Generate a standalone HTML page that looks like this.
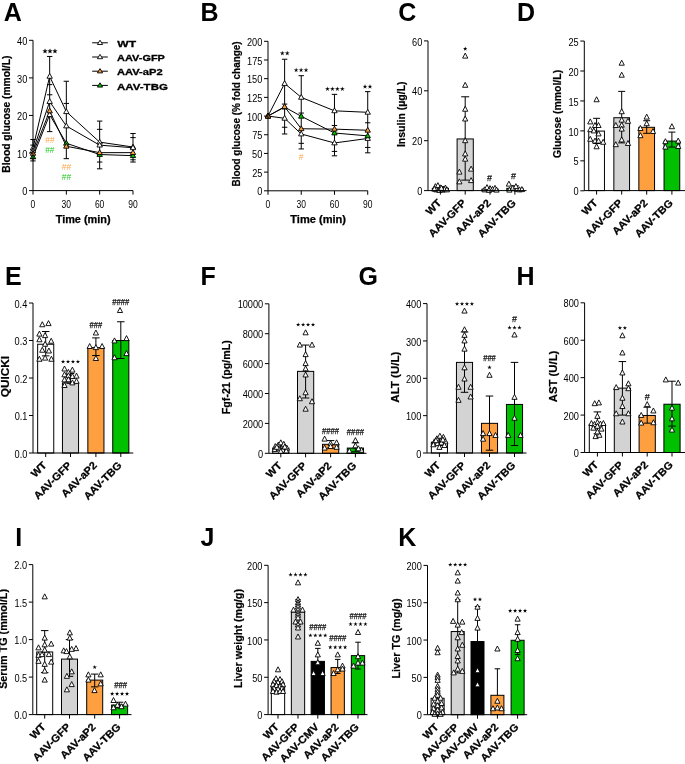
<!DOCTYPE html>
<html><head><meta charset="utf-8"><style>
html,body{margin:0;padding:0;background:#fff;}
svg{display:block;font-family:"Liberation Sans", sans-serif;will-change:transform;}
</style></head><body>
<svg width="685" height="764" viewBox="0 0 685 764">
<rect x="0" y="0" width="685" height="764" fill="#fff"/>
<text x="3.78" y="20.90" font-size="25.00" font-weight="bold" fill="#000" >A</text>
<path d="M33.00,160.92L33.00,139.50" stroke="#000" stroke-width="1.0" fill="none"/>
<path d="M30.30,160.92L35.70,160.92" stroke="#000" stroke-width="1.0" fill="none"/>
<path d="M30.30,158.66L35.70,158.66" stroke="#000" stroke-width="1.0" fill="none"/>
<path d="M30.30,145.13L35.70,145.13" stroke="#000" stroke-width="1.0" fill="none"/>
<path d="M30.30,139.50L35.70,139.50" stroke="#000" stroke-width="1.0" fill="none"/>
<path d="M49.66,131.61L49.66,56.46" stroke="#000" stroke-width="1.0" fill="none"/>
<path d="M46.96,131.61L52.37,131.61" stroke="#000" stroke-width="1.0" fill="none"/>
<path d="M46.96,94.78L52.37,94.78" stroke="#000" stroke-width="1.0" fill="none"/>
<path d="M46.96,84.64L52.37,84.64" stroke="#000" stroke-width="1.0" fill="none"/>
<path d="M46.96,56.46L52.37,56.46" stroke="#000" stroke-width="1.0" fill="none"/>
<path d="M66.33,158.66L66.33,81.26" stroke="#000" stroke-width="1.0" fill="none"/>
<path d="M63.63,158.66L69.03,158.66" stroke="#000" stroke-width="1.0" fill="none"/>
<path d="M63.63,103.43L69.03,103.43" stroke="#000" stroke-width="1.0" fill="none"/>
<path d="M63.63,81.26L69.03,81.26" stroke="#000" stroke-width="1.0" fill="none"/>
<path d="M99.66,168.81L99.66,121.09" stroke="#000" stroke-width="1.0" fill="none"/>
<path d="M96.96,168.81L102.36,168.81" stroke="#000" stroke-width="1.0" fill="none"/>
<path d="M96.96,162.04L102.36,162.04" stroke="#000" stroke-width="1.0" fill="none"/>
<path d="M96.96,129.35L102.36,129.35" stroke="#000" stroke-width="1.0" fill="none"/>
<path d="M96.96,121.09L102.36,121.09" stroke="#000" stroke-width="1.0" fill="none"/>
<path d="M132.99,162.04L132.99,133.49" stroke="#000" stroke-width="1.0" fill="none"/>
<path d="M130.29,162.04L135.69,162.04" stroke="#000" stroke-width="1.0" fill="none"/>
<path d="M130.29,159.79L135.69,159.79" stroke="#000" stroke-width="1.0" fill="none"/>
<path d="M130.29,137.62L135.69,137.62" stroke="#000" stroke-width="1.0" fill="none"/>
<path d="M130.29,133.49L135.69,133.49" stroke="#000" stroke-width="1.0" fill="none"/>
<path d="M33.00,148.14L49.66,76.37L66.33,111.69L99.66,142.13L132.99,147.01" stroke="#000" stroke-width="1.0" fill="none" stroke-linejoin="round"/>
<path d="M33.00,150.77L49.66,101.55L66.33,125.97L99.66,145.13L132.99,147.76" stroke="#000" stroke-width="1.0" fill="none" stroke-linejoin="round"/>
<path d="M33.00,156.78L49.66,114.70L66.33,143.26L99.66,154.53L132.99,155.66" stroke="#000" stroke-width="1.0" fill="none" stroke-linejoin="round"/>
<path d="M33.00,153.40L49.66,110.94L66.33,146.26L99.66,152.65L132.99,152.65" stroke="#000" stroke-width="1.0" fill="none" stroke-linejoin="round"/>
<path d="M33.00,145.24L35.70,150.04L30.30,150.04Z" fill="#fff" stroke="#000" stroke-width="0.9" stroke-linejoin="miter"/>
<path d="M49.66,73.47L52.37,78.27L46.96,78.27Z" fill="#fff" stroke="#000" stroke-width="0.9" stroke-linejoin="miter"/>
<path d="M66.33,108.79L69.03,113.59L63.63,113.59Z" fill="#fff" stroke="#000" stroke-width="0.9" stroke-linejoin="miter"/>
<path d="M99.66,139.23L102.36,144.03L96.96,144.03Z" fill="#fff" stroke="#000" stroke-width="0.9" stroke-linejoin="miter"/>
<path d="M132.99,144.11L135.69,148.91L130.29,148.91Z" fill="#fff" stroke="#000" stroke-width="0.9" stroke-linejoin="miter"/>
<path d="M33.00,147.87L35.70,152.67L30.30,152.67Z" fill="#fff" stroke="#000" stroke-width="0.9" stroke-linejoin="miter"/>
<path d="M49.66,98.65L52.37,103.45L46.96,103.45Z" fill="#fff" stroke="#000" stroke-width="0.9" stroke-linejoin="miter"/>
<path d="M66.33,123.07L69.03,127.87L63.63,127.87Z" fill="#fff" stroke="#000" stroke-width="0.9" stroke-linejoin="miter"/>
<path d="M99.66,142.23L102.36,147.03L96.96,147.03Z" fill="#fff" stroke="#000" stroke-width="0.9" stroke-linejoin="miter"/>
<path d="M132.99,144.86L135.69,149.66L130.29,149.66Z" fill="#fff" stroke="#000" stroke-width="0.9" stroke-linejoin="miter"/>
<path d="M33.00,153.88L35.70,158.68L30.30,158.68Z" fill="#00c000" stroke="#000" stroke-width="0.9" stroke-linejoin="miter"/>
<path d="M49.66,111.80L52.37,116.60L46.96,116.60Z" fill="#fff" stroke="#000" stroke-width="0.9" stroke-linejoin="miter"/>
<path d="M66.33,140.36L69.03,145.16L63.63,145.16Z" fill="#00c000" stroke="#000" stroke-width="0.9" stroke-linejoin="miter"/>
<path d="M99.66,151.63L102.36,156.43L96.96,156.43Z" fill="#00c000" stroke="#000" stroke-width="0.9" stroke-linejoin="miter"/>
<path d="M132.99,152.76L135.69,157.56L130.29,157.56Z" fill="#00c000" stroke="#000" stroke-width="0.9" stroke-linejoin="miter"/>
<path d="M33.00,150.50L35.70,155.30L30.30,155.30Z" fill="#ffa040" stroke="#000" stroke-width="0.9" stroke-linejoin="miter"/>
<path d="M49.66,108.04L52.37,112.84L46.96,112.84Z" fill="#ffa040" stroke="#000" stroke-width="0.9" stroke-linejoin="miter"/>
<path d="M66.33,143.36L69.03,148.16L63.63,148.16Z" fill="#ffa040" stroke="#000" stroke-width="0.9" stroke-linejoin="miter"/>
<path d="M99.66,149.75L102.36,154.55L96.96,154.55Z" fill="#ffa040" stroke="#000" stroke-width="0.9" stroke-linejoin="miter"/>
<path d="M132.99,149.75L135.69,154.55L130.29,154.55Z" fill="#ffa040" stroke="#000" stroke-width="0.9" stroke-linejoin="miter"/>
<path d="M45.05,48.86L45.64,50.40L47.28,50.49L46.00,51.52L46.43,53.11L45.05,52.21L43.67,53.11L44.10,51.52L42.82,50.49L44.46,50.40Z" fill="#000" stroke="#000" stroke-width="0.3"/>
<path d="M50.00,48.86L50.59,50.40L52.23,50.49L50.95,51.52L51.38,53.11L50.00,52.21L48.62,53.11L49.05,51.52L47.77,50.49L49.41,50.40Z" fill="#000" stroke="#000" stroke-width="0.3"/>
<path d="M54.95,48.86L55.54,50.40L57.18,50.49L55.90,51.52L56.33,53.11L54.95,52.21L53.57,53.11L54.00,51.52L52.72,50.49L54.36,50.40Z" fill="#000" stroke="#000" stroke-width="0.3"/>
<text x="45.36" y="142.65" font-size="9.50" font-weight="normal" fill="#ffa54a" textLength="9.30" lengthAdjust="spacingAndGlyphs" stroke="#ffa54a" stroke-width="0.0">##</text>
<text x="45.16" y="152.75" font-size="9.50" font-weight="normal" fill="#1fc81f" textLength="9.30" lengthAdjust="spacingAndGlyphs" stroke="#1fc81f" stroke-width="0.0">##</text>
<text x="61.86" y="170.25" font-size="9.50" font-weight="normal" fill="#ffa54a" textLength="9.30" lengthAdjust="spacingAndGlyphs" stroke="#ffa54a" stroke-width="0.0">##</text>
<text x="61.86" y="179.85" font-size="9.50" font-weight="normal" fill="#1fc81f" textLength="9.30" lengthAdjust="spacingAndGlyphs" stroke="#1fc81f" stroke-width="0.0">##</text>
<path d="M33.00,40.30L33.00,190.60" stroke="#000" stroke-width="1.0" fill="none"/>
<path d="M29.00,190.60L33.00,190.60" stroke="#000" stroke-width="1.0" fill="none"/>
<text x="22.22" y="195.25" font-size="10.00" font-weight="normal" fill="#000" textLength="5.12" lengthAdjust="spacingAndGlyphs" >0</text>
<path d="M29.00,153.03L33.00,153.03" stroke="#000" stroke-width="1.0" fill="none"/>
<text x="17.11" y="157.67" font-size="10.00" font-weight="normal" fill="#000" textLength="10.23" lengthAdjust="spacingAndGlyphs" >10</text>
<path d="M29.00,115.45L33.00,115.45" stroke="#000" stroke-width="1.0" fill="none"/>
<text x="17.11" y="120.10" font-size="10.00" font-weight="normal" fill="#000" textLength="10.23" lengthAdjust="spacingAndGlyphs" >20</text>
<path d="M29.00,77.88L33.00,77.88" stroke="#000" stroke-width="1.0" fill="none"/>
<text x="17.11" y="82.53" font-size="10.00" font-weight="normal" fill="#000" textLength="10.23" lengthAdjust="spacingAndGlyphs" >30</text>
<path d="M29.00,40.30L33.00,40.30" stroke="#000" stroke-width="1.0" fill="none"/>
<text x="17.11" y="44.95" font-size="10.00" font-weight="normal" fill="#000" textLength="10.23" lengthAdjust="spacingAndGlyphs" >40</text>
<path d="M33.00,190.60L132.99,190.60" stroke="#000" stroke-width="1.0" fill="none"/>
<path d="M33.00,190.60L33.00,194.60" stroke="#000" stroke-width="1.0" fill="none"/>
<path d="M66.33,190.60L66.33,194.60" stroke="#000" stroke-width="1.0" fill="none"/>
<path d="M99.66,190.60L99.66,194.60" stroke="#000" stroke-width="1.0" fill="none"/>
<path d="M132.99,190.60L132.99,194.60" stroke="#000" stroke-width="1.0" fill="none"/>
<text x="30.62" y="207.80" font-size="10.00" font-weight="normal" fill="#000" textLength="4.73" lengthAdjust="spacingAndGlyphs" >0</text>
<text x="61.59" y="207.80" font-size="10.00" font-weight="normal" fill="#000" textLength="9.45" lengthAdjust="spacingAndGlyphs" >30</text>
<text x="94.88" y="207.80" font-size="10.00" font-weight="normal" fill="#000" textLength="9.45" lengthAdjust="spacingAndGlyphs" >60</text>
<text x="128.23" y="207.80" font-size="10.00" font-weight="normal" fill="#000" textLength="9.45" lengthAdjust="spacingAndGlyphs" >90</text>
<text transform="translate(9.70,172.67) rotate(-90)" x="0" y="0" font-size="10.00" font-weight="bold" fill="#000" textLength="117.07" lengthAdjust="spacingAndGlyphs" stroke="#000" stroke-width="0.2">Blood glucose (mmol/L)</text>
<text x="55.69" y="223.00" font-size="10.00" font-weight="bold" fill="#000" textLength="54.93" lengthAdjust="spacingAndGlyphs" stroke="#000" stroke-width="0.25">Time (min)</text>
<path d="M92.20,42.80L107.80,42.80" stroke="#000" stroke-width="1.0" fill="none"/>
<path d="M100.00,40.20L102.60,44.50L97.40,44.50Z" fill="#fff" stroke="#000" stroke-width="0.9" stroke-linejoin="miter"/>
<text x="117.30" y="47.00" font-size="9.60" font-weight="bold" fill="#000" textLength="18.72" lengthAdjust="spacingAndGlyphs" stroke="#000" stroke-width="0.3">WT</text>
<path d="M92.20,57.00L107.80,57.00" stroke="#000" stroke-width="1.0" fill="none"/>
<path d="M100.00,54.40L102.60,58.70L97.40,58.70Z" fill="#fff" stroke="#000" stroke-width="0.9" stroke-linejoin="miter"/>
<text x="117.03" y="61.20" font-size="9.60" font-weight="bold" fill="#000" textLength="47.91" lengthAdjust="spacingAndGlyphs" stroke="#000" stroke-width="0.3">AAV-GFP</text>
<path d="M92.20,71.20L107.80,71.20" stroke="#000" stroke-width="1.0" fill="none"/>
<path d="M100.00,68.60L102.60,72.90L97.40,72.90Z" fill="#ffa040" stroke="#000" stroke-width="0.9" stroke-linejoin="miter"/>
<text x="117.02" y="75.40" font-size="9.60" font-weight="bold" fill="#000" textLength="45.62" lengthAdjust="spacingAndGlyphs" stroke="#000" stroke-width="0.3">AAV-aP2</text>
<path d="M92.20,85.40L107.80,85.40" stroke="#000" stroke-width="1.0" fill="none"/>
<path d="M100.00,82.80L102.60,87.10L97.40,87.10Z" fill="#00c000" stroke="#000" stroke-width="0.9" stroke-linejoin="miter"/>
<text x="117.01" y="89.60" font-size="9.60" font-weight="bold" fill="#000" textLength="50.89" lengthAdjust="spacingAndGlyphs" stroke="#000" stroke-width="0.3">AAV-TBG</text>
<text x="200.47" y="21.00" font-size="25.00" font-weight="bold" fill="#000" >B</text>
<path d="M284.62,133.99L284.62,59.24" stroke="#000" stroke-width="1.0" fill="none"/>
<path d="M281.92,133.99L287.32,133.99" stroke="#000" stroke-width="1.0" fill="none"/>
<path d="M281.92,127.26L287.32,127.26" stroke="#000" stroke-width="1.0" fill="none"/>
<path d="M281.92,104.09L287.32,104.09" stroke="#000" stroke-width="1.0" fill="none"/>
<path d="M281.92,59.24L287.32,59.24" stroke="#000" stroke-width="1.0" fill="none"/>
<path d="M301.24,148.94L301.24,75.69" stroke="#000" stroke-width="1.0" fill="none"/>
<path d="M298.54,148.94L303.94,148.94" stroke="#000" stroke-width="1.0" fill="none"/>
<path d="M298.54,143.33L303.94,143.33" stroke="#000" stroke-width="1.0" fill="none"/>
<path d="M298.54,113.06L303.94,113.06" stroke="#000" stroke-width="1.0" fill="none"/>
<path d="M298.54,75.69L303.94,75.69" stroke="#000" stroke-width="1.0" fill="none"/>
<path d="M334.48,155.82L334.48,94.37" stroke="#000" stroke-width="1.0" fill="none"/>
<path d="M331.78,155.82L337.18,155.82" stroke="#000" stroke-width="1.0" fill="none"/>
<path d="M331.78,151.41L337.18,151.41" stroke="#000" stroke-width="1.0" fill="none"/>
<path d="M331.78,125.47L337.18,125.47" stroke="#000" stroke-width="1.0" fill="none"/>
<path d="M331.78,94.37L337.18,94.37" stroke="#000" stroke-width="1.0" fill="none"/>
<path d="M367.72,152.83L367.72,91.61" stroke="#000" stroke-width="1.0" fill="none"/>
<path d="M365.02,152.83L370.42,152.83" stroke="#000" stroke-width="1.0" fill="none"/>
<path d="M365.02,147.44L370.42,147.44" stroke="#000" stroke-width="1.0" fill="none"/>
<path d="M365.02,122.78L370.42,122.78" stroke="#000" stroke-width="1.0" fill="none"/>
<path d="M365.02,91.61L370.42,91.61" stroke="#000" stroke-width="1.0" fill="none"/>
<path d="M268.00,116.05L284.62,83.53L301.24,97.36L334.48,110.82L367.72,112.31" stroke="#000" stroke-width="1.0" fill="none" stroke-linejoin="round"/>
<path d="M268.00,116.05L284.62,118.29L301.24,133.99L334.48,142.96L367.72,138.48" stroke="#000" stroke-width="1.0" fill="none" stroke-linejoin="round"/>
<path d="M268.00,116.05L284.62,107.08L301.24,116.27L334.48,133.02L367.72,135.86" stroke="#000" stroke-width="1.0" fill="none" stroke-linejoin="round"/>
<path d="M268.00,116.05L284.62,106.71L301.24,128.76L334.48,129.13L367.72,130.25" stroke="#000" stroke-width="1.0" fill="none" stroke-linejoin="round"/>
<path d="M268.00,113.15L270.70,117.95L265.30,117.95Z" fill="#fff" stroke="#000" stroke-width="0.9" stroke-linejoin="miter"/>
<path d="M284.62,80.63L287.32,85.43L281.92,85.43Z" fill="#fff" stroke="#000" stroke-width="0.9" stroke-linejoin="miter"/>
<path d="M301.24,94.46L303.94,99.26L298.54,99.26Z" fill="#fff" stroke="#000" stroke-width="0.9" stroke-linejoin="miter"/>
<path d="M334.48,107.92L337.18,112.72L331.78,112.72Z" fill="#fff" stroke="#000" stroke-width="0.9" stroke-linejoin="miter"/>
<path d="M367.72,109.41L370.42,114.21L365.02,114.21Z" fill="#fff" stroke="#000" stroke-width="0.9" stroke-linejoin="miter"/>
<path d="M268.00,113.15L270.70,117.95L265.30,117.95Z" fill="#fff" stroke="#000" stroke-width="0.9" stroke-linejoin="miter"/>
<path d="M284.62,115.39L287.32,120.19L281.92,120.19Z" fill="#fff" stroke="#000" stroke-width="0.9" stroke-linejoin="miter"/>
<path d="M301.24,131.09L303.94,135.89L298.54,135.89Z" fill="#fff" stroke="#000" stroke-width="0.9" stroke-linejoin="miter"/>
<path d="M334.48,140.06L337.18,144.86L331.78,144.86Z" fill="#fff" stroke="#000" stroke-width="0.9" stroke-linejoin="miter"/>
<path d="M367.72,135.58L370.42,140.38L365.02,140.38Z" fill="#fff" stroke="#000" stroke-width="0.9" stroke-linejoin="miter"/>
<path d="M268.00,113.15L270.70,117.95L265.30,117.95Z" fill="#00c000" stroke="#000" stroke-width="0.9" stroke-linejoin="miter"/>
<path d="M284.62,104.18L287.32,108.98L281.92,108.98Z" fill="#00c000" stroke="#000" stroke-width="0.9" stroke-linejoin="miter"/>
<path d="M301.24,113.37L303.94,118.17L298.54,118.17Z" fill="#00c000" stroke="#000" stroke-width="0.9" stroke-linejoin="miter"/>
<path d="M334.48,130.12L337.18,134.92L331.78,134.92Z" fill="#00c000" stroke="#000" stroke-width="0.9" stroke-linejoin="miter"/>
<path d="M367.72,132.96L370.42,137.76L365.02,137.76Z" fill="#00c000" stroke="#000" stroke-width="0.9" stroke-linejoin="miter"/>
<path d="M268.00,113.15L270.70,117.95L265.30,117.95Z" fill="#ffa040" stroke="#000" stroke-width="0.9" stroke-linejoin="miter"/>
<path d="M284.62,103.81L287.32,108.61L281.92,108.61Z" fill="#ffa040" stroke="#000" stroke-width="0.9" stroke-linejoin="miter"/>
<path d="M301.24,125.86L303.94,130.66L298.54,130.66Z" fill="#ffa040" stroke="#000" stroke-width="0.9" stroke-linejoin="miter"/>
<path d="M334.48,126.23L337.18,131.03L331.78,131.03Z" fill="#ffa040" stroke="#000" stroke-width="0.9" stroke-linejoin="miter"/>
<path d="M367.72,127.35L370.42,132.15L365.02,132.15Z" fill="#ffa040" stroke="#000" stroke-width="0.9" stroke-linejoin="miter"/>
<path d="M282.32,50.96L282.82,52.62L284.56,52.59L283.13,53.57L283.71,55.21L282.32,54.16L280.94,55.21L281.52,53.57L280.09,52.59L281.83,52.62Z" fill="#000" stroke="#000" stroke-width="0.1"/>
<path d="M287.27,50.96L287.77,52.62L289.51,52.59L288.08,53.57L288.66,55.21L287.27,54.16L285.89,55.21L286.47,53.57L285.04,52.59L286.78,52.62Z" fill="#000" stroke="#000" stroke-width="0.1"/>
<path d="M296.15,67.76L296.65,69.42L298.38,69.39L296.96,70.37L297.53,72.01L296.15,70.96L294.77,72.01L295.34,70.37L293.92,69.39L295.65,69.42Z" fill="#000" stroke="#000" stroke-width="0.1"/>
<path d="M301.10,67.76L301.60,69.42L303.33,69.39L301.91,70.37L302.48,72.01L301.10,70.96L299.72,72.01L300.29,70.37L298.87,69.39L300.60,69.42Z" fill="#000" stroke="#000" stroke-width="0.1"/>
<path d="M306.05,67.76L306.55,69.42L308.28,69.39L306.86,70.37L307.43,72.01L306.05,70.96L304.67,72.01L305.24,70.37L303.82,69.39L305.55,69.42Z" fill="#000" stroke="#000" stroke-width="0.1"/>
<path d="M327.47,86.66L327.97,88.32L329.71,88.29L328.28,89.27L328.86,90.91L327.47,89.86L326.09,90.91L326.67,89.27L325.24,88.29L326.98,88.32Z" fill="#000" stroke="#000" stroke-width="0.1"/>
<path d="M332.42,86.66L332.92,88.32L334.66,88.29L333.23,89.27L333.81,90.91L332.42,89.86L331.04,90.91L331.62,89.27L330.19,88.29L331.93,88.32Z" fill="#000" stroke="#000" stroke-width="0.1"/>
<path d="M337.37,86.66L337.87,88.32L339.61,88.29L338.18,89.27L338.76,90.91L337.37,89.86L335.99,90.91L336.57,89.27L335.14,88.29L336.88,88.32Z" fill="#000" stroke="#000" stroke-width="0.1"/>
<path d="M342.32,86.66L342.82,88.32L344.56,88.29L343.13,89.27L343.71,90.91L342.32,89.86L340.94,90.91L341.52,89.27L340.09,88.29L341.83,88.32Z" fill="#000" stroke="#000" stroke-width="0.1"/>
<path d="M365.02,84.26L365.52,85.92L367.26,85.89L365.83,86.87L366.41,88.51L365.02,87.46L363.64,88.51L364.22,86.87L362.79,85.89L364.53,85.92Z" fill="#000" stroke="#000" stroke-width="0.1"/>
<path d="M369.97,84.26L370.47,85.92L372.21,85.89L370.78,86.87L371.36,88.51L369.97,87.46L368.59,88.51L369.17,86.87L367.74,85.89L369.48,85.92Z" fill="#000" stroke="#000" stroke-width="0.1"/>
<text x="298.66" y="160.25" font-size="9.50" font-weight="normal" fill="#ffa54a" textLength="4.69" lengthAdjust="spacingAndGlyphs" stroke="#ffa54a" stroke-width="0.0">#</text>
<path d="M268.00,41.30L268.00,190.80" stroke="#000" stroke-width="1.0" fill="none"/>
<path d="M264.00,190.80L268.00,190.80" stroke="#000" stroke-width="1.0" fill="none"/>
<text x="257.22" y="195.45" font-size="10.00" font-weight="normal" fill="#000" textLength="5.12" lengthAdjust="spacingAndGlyphs" >0</text>
<path d="M264.00,172.11L268.00,172.11" stroke="#000" stroke-width="1.0" fill="none"/>
<text x="252.16" y="176.76" font-size="10.00" font-weight="normal" fill="#000" textLength="10.23" lengthAdjust="spacingAndGlyphs" >25</text>
<path d="M264.00,153.43L268.00,153.43" stroke="#000" stroke-width="1.0" fill="none"/>
<text x="252.11" y="158.07" font-size="10.00" font-weight="normal" fill="#000" textLength="10.23" lengthAdjust="spacingAndGlyphs" >50</text>
<path d="M264.00,134.74L268.00,134.74" stroke="#000" stroke-width="1.0" fill="none"/>
<text x="252.16" y="139.34" font-size="10.00" font-weight="normal" fill="#000" textLength="10.23" lengthAdjust="spacingAndGlyphs" >75</text>
<path d="M264.00,116.05L268.00,116.05" stroke="#000" stroke-width="1.0" fill="none"/>
<text x="247.00" y="120.70" font-size="10.00" font-weight="normal" fill="#000" textLength="15.35" lengthAdjust="spacingAndGlyphs" >100</text>
<path d="M264.00,97.36L268.00,97.36" stroke="#000" stroke-width="1.0" fill="none"/>
<text x="247.05" y="102.01" font-size="10.00" font-weight="normal" fill="#000" textLength="15.35" lengthAdjust="spacingAndGlyphs" >125</text>
<path d="M264.00,78.67L268.00,78.67" stroke="#000" stroke-width="1.0" fill="none"/>
<text x="247.00" y="83.33" font-size="10.00" font-weight="normal" fill="#000" textLength="15.35" lengthAdjust="spacingAndGlyphs" >150</text>
<path d="M264.00,59.99L268.00,59.99" stroke="#000" stroke-width="1.0" fill="none"/>
<text x="247.05" y="64.59" font-size="10.00" font-weight="normal" fill="#000" textLength="15.35" lengthAdjust="spacingAndGlyphs" >175</text>
<path d="M264.00,41.30L268.00,41.30" stroke="#000" stroke-width="1.0" fill="none"/>
<text x="247.00" y="45.95" font-size="10.00" font-weight="normal" fill="#000" textLength="15.35" lengthAdjust="spacingAndGlyphs" >200</text>
<path d="M268.00,190.80L367.72,190.80" stroke="#000" stroke-width="1.0" fill="none"/>
<path d="M268.00,190.80L268.00,194.80" stroke="#000" stroke-width="1.0" fill="none"/>
<path d="M301.24,190.80L301.24,194.80" stroke="#000" stroke-width="1.0" fill="none"/>
<path d="M334.48,190.80L334.48,194.80" stroke="#000" stroke-width="1.0" fill="none"/>
<path d="M367.72,190.80L367.72,194.80" stroke="#000" stroke-width="1.0" fill="none"/>
<text x="265.62" y="207.80" font-size="10.00" font-weight="normal" fill="#000" textLength="4.73" lengthAdjust="spacingAndGlyphs" >0</text>
<text x="296.50" y="207.80" font-size="10.00" font-weight="normal" fill="#000" textLength="9.45" lengthAdjust="spacingAndGlyphs" >30</text>
<text x="329.70" y="207.80" font-size="10.00" font-weight="normal" fill="#000" textLength="9.45" lengthAdjust="spacingAndGlyphs" >60</text>
<text x="362.96" y="207.80" font-size="10.00" font-weight="normal" fill="#000" textLength="9.45" lengthAdjust="spacingAndGlyphs" >90</text>
<text transform="translate(239.80,186.55) rotate(-90)" x="0" y="0" font-size="10.00" font-weight="bold" fill="#000" textLength="145.21" lengthAdjust="spacingAndGlyphs" stroke="#000" stroke-width="0.2">Blood glucose (% fold change)</text>
<text x="290.29" y="223.00" font-size="10.00" font-weight="bold" fill="#000" textLength="55.74" lengthAdjust="spacingAndGlyphs" stroke="#000" stroke-width="0.25">Time (min)</text>
<text x="398.20" y="21.20" font-size="25.00" font-weight="bold" fill="#000" >C</text>
<rect x="432.30" y="188.35" width="16.20" height="2.25" fill="#fff" stroke="#000" stroke-width="1.0"/>
<rect x="457.10" y="138.95" width="16.20" height="51.65" fill="#d3d3d3" stroke="#000" stroke-width="1.0"/>
<rect x="481.90" y="189.10" width="16.20" height="1.50" fill="#ffa040" stroke="#000" stroke-width="1.0"/>
<rect x="506.80" y="188.35" width="16.20" height="2.25" fill="#00c000" stroke="#000" stroke-width="1.0"/>
<path d="M440.40,188.35L440.40,186.61" stroke="#000" stroke-width="1.0" fill="none"/>
<path d="M436.40,186.61L444.40,186.61" stroke="#000" stroke-width="1.0" fill="none"/>
<path d="M465.20,138.95L465.20,96.79" stroke="#000" stroke-width="1.0" fill="none"/>
<path d="M461.20,96.79L469.20,96.79" stroke="#000" stroke-width="1.0" fill="none"/>
<path d="M465.20,138.95L465.20,180.12" stroke="#000" stroke-width="1.0" fill="none"/>
<path d="M461.20,180.12L469.20,180.12" stroke="#000" stroke-width="1.0" fill="none"/>
<path d="M490.00,189.10L490.00,188.10" stroke="#000" stroke-width="1.0" fill="none"/>
<path d="M486.00,188.10L494.00,188.10" stroke="#000" stroke-width="1.0" fill="none"/>
<path d="M514.90,188.35L514.90,185.86" stroke="#000" stroke-width="1.0" fill="none"/>
<path d="M510.90,185.86L518.90,185.86" stroke="#000" stroke-width="1.0" fill="none"/>
<path d="M435.40,183.61L438.00,188.61L432.80,188.61Z" fill="#fff" stroke="#000" stroke-width="0.9" stroke-linejoin="miter"/>
<path d="M437.90,182.61L440.50,187.61L435.30,187.61Z" fill="#fff" stroke="#000" stroke-width="0.9" stroke-linejoin="miter"/>
<path d="M440.40,184.86L443.00,189.86L437.80,189.86Z" fill="#fff" stroke="#000" stroke-width="0.9" stroke-linejoin="miter"/>
<path d="M442.90,186.10L445.50,191.10L440.30,191.10Z" fill="#fff" stroke="#000" stroke-width="0.9" stroke-linejoin="miter"/>
<path d="M445.40,185.10L448.00,190.10L442.80,190.10Z" fill="#fff" stroke="#000" stroke-width="0.9" stroke-linejoin="miter"/>
<path d="M436.40,186.85L439.00,191.85L433.80,191.85Z" fill="#fff" stroke="#000" stroke-width="0.9" stroke-linejoin="miter"/>
<path d="M439.40,187.35L442.00,192.35L436.80,192.35Z" fill="#fff" stroke="#000" stroke-width="0.9" stroke-linejoin="miter"/>
<path d="M442.40,187.10L445.00,192.10L439.80,192.10Z" fill="#fff" stroke="#000" stroke-width="0.9" stroke-linejoin="miter"/>
<path d="M444.40,186.60L447.00,191.60L441.80,191.60Z" fill="#fff" stroke="#000" stroke-width="0.9" stroke-linejoin="miter"/>
<path d="M446.90,186.85L449.50,191.85L444.30,191.85Z" fill="#fff" stroke="#000" stroke-width="0.9" stroke-linejoin="miter"/>
<path d="M434.40,186.10L437.00,191.10L431.80,191.10Z" fill="#fff" stroke="#000" stroke-width="0.9" stroke-linejoin="miter"/>
<path d="M441.40,185.35L444.00,190.35L438.80,190.35Z" fill="#fff" stroke="#000" stroke-width="0.9" stroke-linejoin="miter"/>
<path d="M465.20,53.12L467.80,58.12L462.60,58.12Z" fill="#fff" stroke="#000" stroke-width="0.9" stroke-linejoin="miter"/>
<path d="M465.20,82.31L467.80,87.31L462.60,87.31Z" fill="#fff" stroke="#000" stroke-width="0.9" stroke-linejoin="miter"/>
<path d="M465.20,106.26L467.80,111.26L462.60,111.26Z" fill="#fff" stroke="#000" stroke-width="0.9" stroke-linejoin="miter"/>
<path d="M465.20,115.99L467.80,120.99L462.60,120.99Z" fill="#fff" stroke="#000" stroke-width="0.9" stroke-linejoin="miter"/>
<path d="M465.20,137.70L467.80,142.70L462.60,142.70Z" fill="#fff" stroke="#000" stroke-width="0.9" stroke-linejoin="miter"/>
<path d="M465.20,150.92L467.80,155.92L462.60,155.92Z" fill="#fff" stroke="#000" stroke-width="0.9" stroke-linejoin="miter"/>
<path d="M465.20,156.16L467.80,161.16L462.60,161.16Z" fill="#fff" stroke="#000" stroke-width="0.9" stroke-linejoin="miter"/>
<path d="M459.40,169.14L462.00,174.14L456.80,174.14Z" fill="#fff" stroke="#000" stroke-width="0.9" stroke-linejoin="miter"/>
<path d="M471.10,166.14L473.70,171.14L468.50,171.14Z" fill="#fff" stroke="#000" stroke-width="0.9" stroke-linejoin="miter"/>
<path d="M459.40,178.87L462.00,183.87L456.80,183.87Z" fill="#fff" stroke="#000" stroke-width="0.9" stroke-linejoin="miter"/>
<path d="M471.10,177.62L473.70,182.62L468.50,182.62Z" fill="#fff" stroke="#000" stroke-width="0.9" stroke-linejoin="miter"/>
<path d="M484.50,186.85L487.10,191.85L481.90,191.85Z" fill="#fff" stroke="#000" stroke-width="0.9" stroke-linejoin="miter"/>
<path d="M487.00,184.61L489.60,189.61L484.40,189.61Z" fill="#fff" stroke="#000" stroke-width="0.9" stroke-linejoin="miter"/>
<path d="M490.00,185.60L492.60,190.60L487.40,190.60Z" fill="#fff" stroke="#000" stroke-width="0.9" stroke-linejoin="miter"/>
<path d="M492.50,186.35L495.10,191.35L489.90,191.35Z" fill="#fff" stroke="#000" stroke-width="0.9" stroke-linejoin="miter"/>
<path d="M495.00,185.35L497.60,190.35L492.40,190.35Z" fill="#fff" stroke="#000" stroke-width="0.9" stroke-linejoin="miter"/>
<path d="M496.50,187.10L499.10,192.10L493.90,192.10Z" fill="#fff" stroke="#000" stroke-width="0.9" stroke-linejoin="miter"/>
<path d="M489.00,187.35L491.60,192.35L486.40,192.35Z" fill="#fff" stroke="#000" stroke-width="0.9" stroke-linejoin="miter"/>
<path d="M508.90,181.11L511.50,186.11L506.30,186.11Z" fill="#fff" stroke="#000" stroke-width="0.9" stroke-linejoin="miter"/>
<path d="M509.40,187.10L512.00,192.10L506.80,192.10Z" fill="#fff" stroke="#000" stroke-width="0.9" stroke-linejoin="miter"/>
<path d="M512.90,185.10L515.50,190.10L510.30,190.10Z" fill="#fff" stroke="#000" stroke-width="0.9" stroke-linejoin="miter"/>
<path d="M516.90,186.35L519.50,191.35L514.30,191.35Z" fill="#fff" stroke="#000" stroke-width="0.9" stroke-linejoin="miter"/>
<path d="M519.40,186.85L522.00,191.85L516.80,191.85Z" fill="#fff" stroke="#000" stroke-width="0.9" stroke-linejoin="miter"/>
<path d="M521.90,186.60L524.50,191.60L519.30,191.60Z" fill="#fff" stroke="#000" stroke-width="0.9" stroke-linejoin="miter"/>
<path d="M515.90,183.61L518.50,188.61L513.30,188.61Z" fill="#fff" stroke="#000" stroke-width="0.9" stroke-linejoin="miter"/>
<path d="M465.20,46.51L465.70,48.12L467.39,48.10L466.01,49.07L466.55,50.67L465.20,49.66L463.85,50.67L464.39,49.07L463.01,48.10L464.70,48.12Z" fill="#000" stroke="#000" stroke-width="0.0"/>
<text x="487.11" y="181.35" font-size="9.50" font-weight="normal" fill="#111" textLength="5.00" lengthAdjust="spacingAndGlyphs" stroke="#111" stroke-width="0.25">#</text>
<text x="511.11" y="179.45" font-size="9.50" font-weight="normal" fill="#111" textLength="5.00" lengthAdjust="spacingAndGlyphs" stroke="#111" stroke-width="0.25">#</text>
<path d="M428.00,40.90L428.00,190.60" stroke="#000" stroke-width="1.0" fill="none"/>
<path d="M424.00,190.60L428.00,190.60" stroke="#000" stroke-width="1.0" fill="none"/>
<text x="417.22" y="195.25" font-size="10.00" font-weight="normal" fill="#000" textLength="5.12" lengthAdjust="spacingAndGlyphs" >0</text>
<path d="M424.00,140.70L428.00,140.70" stroke="#000" stroke-width="1.0" fill="none"/>
<text x="412.11" y="145.35" font-size="10.00" font-weight="normal" fill="#000" textLength="10.23" lengthAdjust="spacingAndGlyphs" >20</text>
<path d="M424.00,90.80L428.00,90.80" stroke="#000" stroke-width="1.0" fill="none"/>
<text x="412.11" y="95.45" font-size="10.00" font-weight="normal" fill="#000" textLength="10.23" lengthAdjust="spacingAndGlyphs" >40</text>
<path d="M424.00,40.90L428.00,40.90" stroke="#000" stroke-width="1.0" fill="none"/>
<text x="412.11" y="45.55" font-size="10.00" font-weight="normal" fill="#000" textLength="10.23" lengthAdjust="spacingAndGlyphs" >60</text>
<path d="M428.00,190.60L526.50,190.60" stroke="#000" stroke-width="1.0" fill="none"/>
<path d="M440.40,190.60L440.40,194.60" stroke="#000" stroke-width="1.0" fill="none"/>
<path d="M465.20,190.60L465.20,194.60" stroke="#000" stroke-width="1.0" fill="none"/>
<path d="M490.00,190.60L490.00,194.60" stroke="#000" stroke-width="1.0" fill="none"/>
<path d="M514.90,190.60L514.90,194.60" stroke="#000" stroke-width="1.0" fill="none"/>
<text transform="translate(442.00,203.60) rotate(-45)" x="0" y="0" font-size="10.5" font-weight="bold" text-anchor="end" textLength="17.14" lengthAdjust="spacingAndGlyphs" stroke="#000" stroke-width="0.25">WT</text>
<text transform="translate(466.80,203.60) rotate(-45)" x="0" y="0" font-size="10.5" font-weight="bold" text-anchor="end" textLength="48.19" lengthAdjust="spacingAndGlyphs" stroke="#000" stroke-width="0.25">AAV-GFP</text>
<text transform="translate(491.60,203.60) rotate(-45)" x="0" y="0" font-size="10.5" font-weight="bold" text-anchor="end" textLength="45.14" lengthAdjust="spacingAndGlyphs" stroke="#000" stroke-width="0.25">AAV-aP2</text>
<text transform="translate(516.50,203.60) rotate(-45)" x="0" y="0" font-size="10.5" font-weight="bold" text-anchor="end" textLength="48.80" lengthAdjust="spacingAndGlyphs" stroke="#000" stroke-width="0.25">AAV-TBG</text>
<text transform="translate(405.40,147.08) rotate(-90)" x="0" y="0" font-size="10.00" font-weight="bold" fill="#000" textLength="65.68" lengthAdjust="spacingAndGlyphs" stroke="#000" stroke-width="0.2">Insulin (µg/L)</text>
<text x="516.98" y="20.90" font-size="25.00" font-weight="bold" fill="#000" >D</text>
<rect x="588.75" y="131.08" width="15.70" height="59.52" fill="#fff" stroke="#000" stroke-width="1.0"/>
<rect x="613.85" y="117.72" width="15.70" height="72.88" fill="#d3d3d3" stroke="#000" stroke-width="1.0"/>
<rect x="638.85" y="127.31" width="15.70" height="63.29" fill="#ffa040" stroke="#000" stroke-width="1.0"/>
<rect x="664.05" y="141.08" width="15.70" height="49.52" fill="#00c000" stroke="#000" stroke-width="1.0"/>
<path d="M596.60,131.08L596.60,118.32" stroke="#000" stroke-width="1.0" fill="none"/>
<path d="M593.10,118.32L600.10,118.32" stroke="#000" stroke-width="1.0" fill="none"/>
<path d="M596.60,131.08L596.60,143.48" stroke="#000" stroke-width="1.0" fill="none"/>
<path d="M593.10,143.48L600.10,143.48" stroke="#000" stroke-width="1.0" fill="none"/>
<path d="M621.70,117.72L621.70,91.37" stroke="#000" stroke-width="1.0" fill="none"/>
<path d="M618.20,91.37L625.20,91.37" stroke="#000" stroke-width="1.0" fill="none"/>
<path d="M621.70,117.72L621.70,142.88" stroke="#000" stroke-width="1.0" fill="none"/>
<path d="M618.20,142.88L625.20,142.88" stroke="#000" stroke-width="1.0" fill="none"/>
<path d="M646.70,127.31L646.70,120.72" stroke="#000" stroke-width="1.0" fill="none"/>
<path d="M643.20,120.72L650.20,120.72" stroke="#000" stroke-width="1.0" fill="none"/>
<path d="M646.70,127.31L646.70,133.30" stroke="#000" stroke-width="1.0" fill="none"/>
<path d="M643.20,133.30L650.20,133.30" stroke="#000" stroke-width="1.0" fill="none"/>
<path d="M671.90,141.08L671.90,132.10" stroke="#000" stroke-width="1.0" fill="none"/>
<path d="M668.40,132.10L675.40,132.10" stroke="#000" stroke-width="1.0" fill="none"/>
<path d="M671.90,141.08L671.90,147.07" stroke="#000" stroke-width="1.0" fill="none"/>
<path d="M668.40,147.07L675.40,147.07" stroke="#000" stroke-width="1.0" fill="none"/>
<path d="M596.60,96.75L599.20,101.75L594.00,101.75Z" fill="#fff" stroke="#000" stroke-width="0.9" stroke-linejoin="miter"/>
<path d="M590.30,118.92L592.90,123.92L587.70,123.92Z" fill="#fff" stroke="#000" stroke-width="0.9" stroke-linejoin="miter"/>
<path d="M595.00,122.51L597.60,127.51L592.40,127.51Z" fill="#fff" stroke="#000" stroke-width="0.9" stroke-linejoin="miter"/>
<path d="M598.50,122.51L601.10,127.51L595.90,127.51Z" fill="#fff" stroke="#000" stroke-width="0.9" stroke-linejoin="miter"/>
<path d="M590.30,126.70L592.90,131.70L587.70,131.70Z" fill="#fff" stroke="#000" stroke-width="0.9" stroke-linejoin="miter"/>
<path d="M593.80,127.90L596.40,132.90L591.20,132.90Z" fill="#fff" stroke="#000" stroke-width="0.9" stroke-linejoin="miter"/>
<path d="M598.50,130.90L601.10,135.90L595.90,135.90Z" fill="#fff" stroke="#000" stroke-width="0.9" stroke-linejoin="miter"/>
<path d="M590.30,136.29L592.90,141.29L587.70,141.29Z" fill="#fff" stroke="#000" stroke-width="0.9" stroke-linejoin="miter"/>
<path d="M595.00,138.08L597.60,143.08L592.40,143.08Z" fill="#fff" stroke="#000" stroke-width="0.9" stroke-linejoin="miter"/>
<path d="M598.50,138.08L601.10,143.08L595.90,143.08Z" fill="#fff" stroke="#000" stroke-width="0.9" stroke-linejoin="miter"/>
<path d="M603.20,139.28L605.80,144.28L600.60,144.28Z" fill="#fff" stroke="#000" stroke-width="0.9" stroke-linejoin="miter"/>
<path d="M596.60,143.77L599.20,148.77L594.00,148.77Z" fill="#fff" stroke="#000" stroke-width="0.9" stroke-linejoin="miter"/>
<path d="M621.70,60.21L624.30,65.21L619.10,65.21Z" fill="#fff" stroke="#000" stroke-width="0.9" stroke-linejoin="miter"/>
<path d="M621.70,72.19L624.30,77.19L619.10,77.19Z" fill="#fff" stroke="#000" stroke-width="0.9" stroke-linejoin="miter"/>
<path d="M621.70,108.73L624.30,113.73L619.10,113.73Z" fill="#fff" stroke="#000" stroke-width="0.9" stroke-linejoin="miter"/>
<path d="M621.70,117.12L624.30,122.12L619.10,122.12Z" fill="#fff" stroke="#000" stroke-width="0.9" stroke-linejoin="miter"/>
<path d="M628.00,118.32L630.60,123.32L625.40,123.32Z" fill="#fff" stroke="#000" stroke-width="0.9" stroke-linejoin="miter"/>
<path d="M615.80,122.51L618.40,127.51L613.20,127.51Z" fill="#fff" stroke="#000" stroke-width="0.9" stroke-linejoin="miter"/>
<path d="M621.70,122.21L624.30,127.21L619.10,127.21Z" fill="#fff" stroke="#000" stroke-width="0.9" stroke-linejoin="miter"/>
<path d="M621.70,126.10L624.30,131.10L619.10,131.10Z" fill="#fff" stroke="#000" stroke-width="0.9" stroke-linejoin="miter"/>
<path d="M621.70,136.89L624.30,141.89L619.10,141.89Z" fill="#fff" stroke="#000" stroke-width="0.9" stroke-linejoin="miter"/>
<path d="M615.80,141.68L618.40,146.68L613.20,146.68Z" fill="#fff" stroke="#000" stroke-width="0.9" stroke-linejoin="miter"/>
<path d="M628.00,140.48L630.60,145.48L625.40,145.48Z" fill="#fff" stroke="#000" stroke-width="0.9" stroke-linejoin="miter"/>
<path d="M646.70,114.12L649.30,119.12L644.10,119.12Z" fill="#fff" stroke="#000" stroke-width="0.9" stroke-linejoin="miter"/>
<path d="M646.70,120.71L649.30,125.71L644.10,125.71Z" fill="#fff" stroke="#000" stroke-width="0.9" stroke-linejoin="miter"/>
<path d="M640.40,125.50L643.00,130.50L637.80,130.50Z" fill="#fff" stroke="#000" stroke-width="0.9" stroke-linejoin="miter"/>
<path d="M653.00,128.50L655.60,133.50L650.40,133.50Z" fill="#fff" stroke="#000" stroke-width="0.9" stroke-linejoin="miter"/>
<path d="M640.40,132.69L643.00,137.69L637.80,137.69Z" fill="#fff" stroke="#000" stroke-width="0.9" stroke-linejoin="miter"/>
<path d="M671.90,123.71L674.50,128.71L669.30,128.71Z" fill="#fff" stroke="#000" stroke-width="0.9" stroke-linejoin="miter"/>
<path d="M665.40,138.68L668.00,143.68L662.80,143.68Z" fill="#fff" stroke="#000" stroke-width="0.9" stroke-linejoin="miter"/>
<path d="M678.20,138.08L680.80,143.08L675.60,143.08Z" fill="#fff" stroke="#000" stroke-width="0.9" stroke-linejoin="miter"/>
<path d="M665.40,144.07L668.00,149.07L662.80,149.07Z" fill="#fff" stroke="#000" stroke-width="0.9" stroke-linejoin="miter"/>
<path d="M678.20,143.47L680.80,148.47L675.60,148.47Z" fill="#fff" stroke="#000" stroke-width="0.9" stroke-linejoin="miter"/>
<path d="M584.30,41.05L584.30,190.80" stroke="#000" stroke-width="1.0" fill="none"/>
<path d="M580.30,190.80L584.30,190.80" stroke="#000" stroke-width="1.0" fill="none"/>
<text x="573.52" y="195.45" font-size="10.00" font-weight="normal" fill="#000" textLength="5.12" lengthAdjust="spacingAndGlyphs" >0</text>
<path d="M580.30,160.85L584.30,160.85" stroke="#000" stroke-width="1.0" fill="none"/>
<text x="573.56" y="165.45" font-size="10.00" font-weight="normal" fill="#000" textLength="5.12" lengthAdjust="spacingAndGlyphs" >5</text>
<path d="M580.30,130.90L584.30,130.90" stroke="#000" stroke-width="1.0" fill="none"/>
<text x="568.41" y="135.55" font-size="10.00" font-weight="normal" fill="#000" textLength="10.23" lengthAdjust="spacingAndGlyphs" >10</text>
<path d="M580.30,100.95L584.30,100.95" stroke="#000" stroke-width="1.0" fill="none"/>
<text x="568.46" y="105.55" font-size="10.00" font-weight="normal" fill="#000" textLength="10.23" lengthAdjust="spacingAndGlyphs" >15</text>
<path d="M580.30,71.00L584.30,71.00" stroke="#000" stroke-width="1.0" fill="none"/>
<text x="568.41" y="75.65" font-size="10.00" font-weight="normal" fill="#000" textLength="10.23" lengthAdjust="spacingAndGlyphs" >20</text>
<path d="M580.30,41.05L584.30,41.05" stroke="#000" stroke-width="1.0" fill="none"/>
<text x="568.46" y="45.70" font-size="10.00" font-weight="normal" fill="#000" textLength="10.23" lengthAdjust="spacingAndGlyphs" >25</text>
<path d="M584.30,190.60L685.00,190.60" stroke="#000" stroke-width="1.0" fill="none"/>
<path d="M596.60,190.60L596.60,194.60" stroke="#000" stroke-width="1.0" fill="none"/>
<path d="M621.70,190.60L621.70,194.60" stroke="#000" stroke-width="1.0" fill="none"/>
<path d="M646.70,190.60L646.70,194.60" stroke="#000" stroke-width="1.0" fill="none"/>
<path d="M671.90,190.60L671.90,194.60" stroke="#000" stroke-width="1.0" fill="none"/>
<text transform="translate(598.20,203.60) rotate(-45)" x="0" y="0" font-size="10.5" font-weight="bold" text-anchor="end" textLength="17.14" lengthAdjust="spacingAndGlyphs" stroke="#000" stroke-width="0.25">WT</text>
<text transform="translate(623.30,203.60) rotate(-45)" x="0" y="0" font-size="10.5" font-weight="bold" text-anchor="end" textLength="48.19" lengthAdjust="spacingAndGlyphs" stroke="#000" stroke-width="0.25">AAV-GFP</text>
<text transform="translate(648.30,203.60) rotate(-45)" x="0" y="0" font-size="10.5" font-weight="bold" text-anchor="end" textLength="45.14" lengthAdjust="spacingAndGlyphs" stroke="#000" stroke-width="0.25">AAV-aP2</text>
<text transform="translate(673.50,203.60) rotate(-45)" x="0" y="0" font-size="10.5" font-weight="bold" text-anchor="end" textLength="48.80" lengthAdjust="spacingAndGlyphs" stroke="#000" stroke-width="0.25">AAV-TBG</text>
<text transform="translate(560.60,158.12) rotate(-90)" x="0" y="0" font-size="10.00" font-weight="bold" fill="#000" textLength="88.24" lengthAdjust="spacingAndGlyphs" stroke="#000" stroke-width="0.2">Glucose (mmol/L)</text>
<text x="4.97" y="285.00" font-size="25.00" font-weight="bold" fill="#000" >E</text>
<rect x="37.65" y="344.25" width="16.10" height="108.75" fill="#fff" stroke="#000" stroke-width="1.0"/>
<rect x="62.45" y="382.88" width="16.10" height="70.12" fill="#d3d3d3" stroke="#000" stroke-width="1.0"/>
<rect x="87.85" y="347.62" width="16.10" height="105.38" fill="#ffa040" stroke="#000" stroke-width="1.0"/>
<rect x="112.75" y="340.50" width="16.10" height="112.50" fill="#00c000" stroke="#000" stroke-width="1.0"/>
<path d="M45.70,344.25L45.70,331.50" stroke="#000" stroke-width="1.0" fill="none"/>
<path d="M41.95,331.50L49.45,331.50" stroke="#000" stroke-width="1.0" fill="none"/>
<path d="M45.70,344.25L45.70,355.88" stroke="#000" stroke-width="1.0" fill="none"/>
<path d="M41.95,355.88L49.45,355.88" stroke="#000" stroke-width="1.0" fill="none"/>
<path d="M70.50,382.88L70.50,373.50" stroke="#000" stroke-width="1.0" fill="none"/>
<path d="M66.75,373.50L74.25,373.50" stroke="#000" stroke-width="1.0" fill="none"/>
<path d="M70.50,382.88L70.50,383.25" stroke="#000" stroke-width="1.0" fill="none"/>
<path d="M66.75,383.25L74.25,383.25" stroke="#000" stroke-width="1.0" fill="none"/>
<path d="M95.90,347.62L95.90,337.88" stroke="#000" stroke-width="1.0" fill="none"/>
<path d="M92.15,337.88L99.65,337.88" stroke="#000" stroke-width="1.0" fill="none"/>
<path d="M95.90,347.62L95.90,355.50" stroke="#000" stroke-width="1.0" fill="none"/>
<path d="M92.15,355.50L99.65,355.50" stroke="#000" stroke-width="1.0" fill="none"/>
<path d="M120.80,340.50L120.80,321.75" stroke="#000" stroke-width="1.0" fill="none"/>
<path d="M117.05,321.75L124.55,321.75" stroke="#000" stroke-width="1.0" fill="none"/>
<path d="M120.80,340.50L120.80,358.50" stroke="#000" stroke-width="1.0" fill="none"/>
<path d="M117.05,358.50L124.55,358.50" stroke="#000" stroke-width="1.0" fill="none"/>
<path d="M42.30,321.75L44.90,326.75L39.70,326.75Z" fill="#fff" stroke="#000" stroke-width="0.9" stroke-linejoin="miter"/>
<path d="M48.50,320.62L51.10,325.62L45.90,325.62Z" fill="#fff" stroke="#000" stroke-width="0.9" stroke-linejoin="miter"/>
<path d="M39.40,331.12L42.00,336.12L36.80,336.12Z" fill="#fff" stroke="#000" stroke-width="0.9" stroke-linejoin="miter"/>
<path d="M45.10,332.62L47.70,337.62L42.50,337.62Z" fill="#fff" stroke="#000" stroke-width="0.9" stroke-linejoin="miter"/>
<path d="M51.20,338.25L53.80,343.25L48.60,343.25Z" fill="#fff" stroke="#000" stroke-width="0.9" stroke-linejoin="miter"/>
<path d="M39.40,336.75L42.00,341.75L36.80,341.75Z" fill="#fff" stroke="#000" stroke-width="0.9" stroke-linejoin="miter"/>
<path d="M45.10,341.25L47.70,346.25L42.50,346.25Z" fill="#fff" stroke="#000" stroke-width="0.9" stroke-linejoin="miter"/>
<path d="M42.30,347.25L44.90,352.25L39.70,352.25Z" fill="#fff" stroke="#000" stroke-width="0.9" stroke-linejoin="miter"/>
<path d="M48.90,348.00L51.50,353.00L46.30,353.00Z" fill="#fff" stroke="#000" stroke-width="0.9" stroke-linejoin="miter"/>
<path d="M39.40,356.25L42.00,361.25L36.80,361.25Z" fill="#fff" stroke="#000" stroke-width="0.9" stroke-linejoin="miter"/>
<path d="M45.10,355.12L47.70,360.12L42.50,360.12Z" fill="#fff" stroke="#000" stroke-width="0.9" stroke-linejoin="miter"/>
<path d="M51.40,356.25L54.00,361.25L48.80,361.25Z" fill="#fff" stroke="#000" stroke-width="0.9" stroke-linejoin="miter"/>
<path d="M64.50,366.00L67.10,371.00L61.90,371.00Z" fill="#fff" stroke="#000" stroke-width="0.9" stroke-linejoin="miter"/>
<path d="M68.40,369.38L71.00,374.38L65.80,374.38Z" fill="#fff" stroke="#000" stroke-width="0.9" stroke-linejoin="miter"/>
<path d="M72.40,367.12L75.00,372.12L69.80,372.12Z" fill="#fff" stroke="#000" stroke-width="0.9" stroke-linejoin="miter"/>
<path d="M64.50,371.81L67.10,376.81L61.90,376.81Z" fill="#fff" stroke="#000" stroke-width="0.9" stroke-linejoin="miter"/>
<path d="M68.40,372.75L71.00,377.75L65.80,377.75Z" fill="#fff" stroke="#000" stroke-width="0.9" stroke-linejoin="miter"/>
<path d="M72.40,373.50L75.00,378.50L69.80,378.50Z" fill="#fff" stroke="#000" stroke-width="0.9" stroke-linejoin="miter"/>
<path d="M76.50,373.12L79.10,378.12L73.90,378.12Z" fill="#fff" stroke="#000" stroke-width="0.9" stroke-linejoin="miter"/>
<path d="M64.50,376.88L67.10,381.88L61.90,381.88Z" fill="#fff" stroke="#000" stroke-width="0.9" stroke-linejoin="miter"/>
<path d="M68.40,376.69L71.00,381.69L65.80,381.69Z" fill="#fff" stroke="#000" stroke-width="0.9" stroke-linejoin="miter"/>
<path d="M72.40,379.88L75.00,384.88L69.80,384.88Z" fill="#fff" stroke="#000" stroke-width="0.9" stroke-linejoin="miter"/>
<path d="M76.50,378.38L79.10,383.38L73.90,383.38Z" fill="#fff" stroke="#000" stroke-width="0.9" stroke-linejoin="miter"/>
<path d="M64.50,382.50L67.10,387.50L61.90,387.50Z" fill="#fff" stroke="#000" stroke-width="0.9" stroke-linejoin="miter"/>
<path d="M95.90,330.00L98.50,335.00L93.30,335.00Z" fill="#fff" stroke="#000" stroke-width="0.9" stroke-linejoin="miter"/>
<path d="M89.70,343.50L92.30,348.50L87.10,348.50Z" fill="#fff" stroke="#000" stroke-width="0.9" stroke-linejoin="miter"/>
<path d="M102.10,343.50L104.70,348.50L99.50,348.50Z" fill="#fff" stroke="#000" stroke-width="0.9" stroke-linejoin="miter"/>
<path d="M95.90,344.62L98.50,349.62L93.30,349.62Z" fill="#fff" stroke="#000" stroke-width="0.9" stroke-linejoin="miter"/>
<path d="M95.90,355.50L98.50,360.50L93.30,360.50Z" fill="#fff" stroke="#000" stroke-width="0.9" stroke-linejoin="miter"/>
<path d="M120.00,307.50L122.60,312.50L117.40,312.50Z" fill="#fff" stroke="#000" stroke-width="0.9" stroke-linejoin="miter"/>
<path d="M114.50,337.88L117.10,342.88L111.90,342.88Z" fill="#fff" stroke="#000" stroke-width="0.9" stroke-linejoin="miter"/>
<path d="M126.50,335.62L129.10,340.62L123.90,340.62Z" fill="#fff" stroke="#000" stroke-width="0.9" stroke-linejoin="miter"/>
<path d="M126.50,350.62L129.10,355.62L123.90,355.62Z" fill="#fff" stroke="#000" stroke-width="0.9" stroke-linejoin="miter"/>
<path d="M114.50,354.75L117.10,359.75L111.90,359.75Z" fill="#fff" stroke="#000" stroke-width="0.9" stroke-linejoin="miter"/>
<path d="M63.08,359.41L63.57,361.02L65.26,361.00L63.88,361.97L64.43,363.57L63.08,362.56L61.72,363.57L62.27,361.97L60.89,361.00L62.58,361.02Z" fill="#000" stroke="#000" stroke-width="0.0"/>
<path d="M68.03,359.41L68.52,361.02L70.21,361.00L68.83,361.97L69.38,363.57L68.03,362.56L66.67,363.57L67.22,361.97L65.84,361.00L67.53,361.02Z" fill="#000" stroke="#000" stroke-width="0.0"/>
<path d="M72.98,359.41L73.47,361.02L75.16,361.00L73.78,361.97L74.33,363.57L72.98,362.56L71.62,363.57L72.17,361.97L70.79,361.00L72.48,361.02Z" fill="#000" stroke="#000" stroke-width="0.0"/>
<path d="M77.93,359.41L78.42,361.02L80.11,361.00L78.73,361.97L79.28,363.57L77.93,362.56L76.57,363.57L77.12,361.97L75.74,361.00L77.43,361.02Z" fill="#000" stroke="#000" stroke-width="0.0"/>
<text x="89.61" y="328.01" font-size="8.50" font-weight="normal" fill="#111" textLength="12.60" lengthAdjust="spacingAndGlyphs" stroke="#111" stroke-width="0.25">###</text>
<text x="112.26" y="304.71" font-size="8.50" font-weight="normal" fill="#111" textLength="17.07" lengthAdjust="spacingAndGlyphs" stroke="#111" stroke-width="0.25">####</text>
<path d="M33.00,303.00L33.00,453.00" stroke="#000" stroke-width="1.0" fill="none"/>
<path d="M29.00,453.00L33.00,453.00" stroke="#000" stroke-width="1.0" fill="none"/>
<text x="14.53" y="457.65" font-size="10.00" font-weight="normal" fill="#000" textLength="12.79" lengthAdjust="spacingAndGlyphs" >0.0</text>
<path d="M29.00,415.50L33.00,415.50" stroke="#000" stroke-width="1.0" fill="none"/>
<text x="14.63" y="420.15" font-size="10.00" font-weight="normal" fill="#000" textLength="12.79" lengthAdjust="spacingAndGlyphs" >0.1</text>
<path d="M29.00,378.00L33.00,378.00" stroke="#000" stroke-width="1.0" fill="none"/>
<text x="14.67" y="382.65" font-size="10.00" font-weight="normal" fill="#000" textLength="12.79" lengthAdjust="spacingAndGlyphs" >0.2</text>
<path d="M29.00,340.50L33.00,340.50" stroke="#000" stroke-width="1.0" fill="none"/>
<text x="14.58" y="345.15" font-size="10.00" font-weight="normal" fill="#000" textLength="12.79" lengthAdjust="spacingAndGlyphs" >0.3</text>
<path d="M29.00,303.00L33.00,303.00" stroke="#000" stroke-width="1.0" fill="none"/>
<text x="14.49" y="307.65" font-size="10.00" font-weight="normal" fill="#000" textLength="12.79" lengthAdjust="spacingAndGlyphs" >0.4</text>
<path d="M33.00,453.00L133.30,453.00" stroke="#000" stroke-width="1.0" fill="none"/>
<path d="M45.70,453.00L45.70,457.00" stroke="#000" stroke-width="1.0" fill="none"/>
<path d="M70.50,453.00L70.50,457.00" stroke="#000" stroke-width="1.0" fill="none"/>
<path d="M95.90,453.00L95.90,457.00" stroke="#000" stroke-width="1.0" fill="none"/>
<path d="M120.80,453.00L120.80,457.00" stroke="#000" stroke-width="1.0" fill="none"/>
<text transform="translate(47.30,466.00) rotate(-45)" x="0" y="0" font-size="10.5" font-weight="bold" text-anchor="end" textLength="17.14" lengthAdjust="spacingAndGlyphs" stroke="#000" stroke-width="0.25">WT</text>
<text transform="translate(72.10,466.00) rotate(-45)" x="0" y="0" font-size="10.5" font-weight="bold" text-anchor="end" textLength="48.19" lengthAdjust="spacingAndGlyphs" stroke="#000" stroke-width="0.25">AAV-GFP</text>
<text transform="translate(97.50,466.00) rotate(-45)" x="0" y="0" font-size="10.5" font-weight="bold" text-anchor="end" textLength="45.14" lengthAdjust="spacingAndGlyphs" stroke="#000" stroke-width="0.25">AAV-aP2</text>
<text transform="translate(122.40,466.00) rotate(-45)" x="0" y="0" font-size="10.5" font-weight="bold" text-anchor="end" textLength="48.80" lengthAdjust="spacingAndGlyphs" stroke="#000" stroke-width="0.25">AAV-TBG</text>
<text transform="translate(9.10,397.27) rotate(-90)" x="0" y="0" font-size="10.00" font-weight="bold" fill="#000" textLength="41.30" lengthAdjust="spacingAndGlyphs" stroke="#000" stroke-width="0.2">QUICKI</text>
<text x="200.47" y="285.00" font-size="25.00" font-weight="bold" fill="#000" >F</text>
<rect x="272.70" y="448.22" width="16.20" height="5.08" fill="#fff" stroke="#000" stroke-width="1.0"/>
<rect x="297.50" y="371.37" width="16.20" height="81.93" fill="#d3d3d3" stroke="#000" stroke-width="1.0"/>
<rect x="322.50" y="444.33" width="16.20" height="8.97" fill="#ffa040" stroke="#000" stroke-width="1.0"/>
<rect x="347.30" y="448.07" width="16.20" height="5.23" fill="#00c000" stroke="#000" stroke-width="1.0"/>
<path d="M280.80,448.22L280.80,445.53" stroke="#000" stroke-width="1.0" fill="none"/>
<path d="M277.05,445.53L284.55,445.53" stroke="#000" stroke-width="1.0" fill="none"/>
<path d="M280.80,448.22L280.80,450.61" stroke="#000" stroke-width="1.0" fill="none"/>
<path d="M277.05,450.61L284.55,450.61" stroke="#000" stroke-width="1.0" fill="none"/>
<path d="M305.60,371.37L305.60,345.06" stroke="#000" stroke-width="1.0" fill="none"/>
<path d="M301.85,345.06L309.35,345.06" stroke="#000" stroke-width="1.0" fill="none"/>
<path d="M305.60,371.37L305.60,397.99" stroke="#000" stroke-width="1.0" fill="none"/>
<path d="M301.85,397.99L309.35,397.99" stroke="#000" stroke-width="1.0" fill="none"/>
<path d="M330.60,444.33L330.60,440.59" stroke="#000" stroke-width="1.0" fill="none"/>
<path d="M326.85,440.59L334.35,440.59" stroke="#000" stroke-width="1.0" fill="none"/>
<path d="M330.60,444.33L330.60,448.07" stroke="#000" stroke-width="1.0" fill="none"/>
<path d="M326.85,448.07L334.35,448.07" stroke="#000" stroke-width="1.0" fill="none"/>
<path d="M355.40,448.07L355.40,442.84" stroke="#000" stroke-width="1.0" fill="none"/>
<path d="M351.65,442.84L359.15,442.84" stroke="#000" stroke-width="1.0" fill="none"/>
<path d="M355.40,448.07L355.40,451.81" stroke="#000" stroke-width="1.0" fill="none"/>
<path d="M351.65,451.81L359.15,451.81" stroke="#000" stroke-width="1.0" fill="none"/>
<path d="M275.30,443.57L277.90,448.57L272.70,448.57Z" fill="#fff" stroke="#000" stroke-width="0.9" stroke-linejoin="miter"/>
<path d="M278.30,442.08L280.90,447.08L275.70,447.08Z" fill="#fff" stroke="#000" stroke-width="0.9" stroke-linejoin="miter"/>
<path d="M280.80,439.84L283.40,444.84L278.20,444.84Z" fill="#fff" stroke="#000" stroke-width="0.9" stroke-linejoin="miter"/>
<path d="M283.80,441.33L286.40,446.33L281.20,446.33Z" fill="#fff" stroke="#000" stroke-width="0.9" stroke-linejoin="miter"/>
<path d="M286.80,445.07L289.40,450.07L284.20,450.07Z" fill="#fff" stroke="#000" stroke-width="0.9" stroke-linejoin="miter"/>
<path d="M274.80,446.56L277.40,451.56L272.20,451.56Z" fill="#fff" stroke="#000" stroke-width="0.9" stroke-linejoin="miter"/>
<path d="M278.80,445.81L281.40,450.81L276.20,450.81Z" fill="#fff" stroke="#000" stroke-width="0.9" stroke-linejoin="miter"/>
<path d="M282.80,447.31L285.40,452.31L280.20,452.31Z" fill="#fff" stroke="#000" stroke-width="0.9" stroke-linejoin="miter"/>
<path d="M286.30,448.06L288.90,453.06L283.70,453.06Z" fill="#fff" stroke="#000" stroke-width="0.9" stroke-linejoin="miter"/>
<path d="M280.80,448.51L283.40,453.51L278.20,453.51Z" fill="#fff" stroke="#000" stroke-width="0.9" stroke-linejoin="miter"/>
<path d="M276.80,444.32L279.40,449.32L274.20,449.32Z" fill="#fff" stroke="#000" stroke-width="0.9" stroke-linejoin="miter"/>
<path d="M284.80,444.02L287.40,449.02L282.20,449.02Z" fill="#fff" stroke="#000" stroke-width="0.9" stroke-linejoin="miter"/>
<path d="M305.60,329.80L308.20,334.80L303.00,334.80Z" fill="#fff" stroke="#000" stroke-width="0.9" stroke-linejoin="miter"/>
<path d="M299.80,342.06L302.40,347.06L297.20,347.06Z" fill="#fff" stroke="#000" stroke-width="0.9" stroke-linejoin="miter"/>
<path d="M312.00,342.06L314.60,347.06L309.40,347.06Z" fill="#fff" stroke="#000" stroke-width="0.9" stroke-linejoin="miter"/>
<path d="M305.60,351.63L308.20,356.63L303.00,356.63Z" fill="#fff" stroke="#000" stroke-width="0.9" stroke-linejoin="miter"/>
<path d="M305.60,360.60L308.20,365.60L303.00,365.60Z" fill="#fff" stroke="#000" stroke-width="0.9" stroke-linejoin="miter"/>
<path d="M305.60,365.83L308.20,370.83L303.00,370.83Z" fill="#fff" stroke="#000" stroke-width="0.9" stroke-linejoin="miter"/>
<path d="M305.60,371.96L308.20,376.96L303.00,376.96Z" fill="#fff" stroke="#000" stroke-width="0.9" stroke-linejoin="miter"/>
<path d="M305.60,389.75L308.20,394.75L303.00,394.75Z" fill="#fff" stroke="#000" stroke-width="0.9" stroke-linejoin="miter"/>
<path d="M299.80,395.73L302.40,400.73L297.20,400.73Z" fill="#fff" stroke="#000" stroke-width="0.9" stroke-linejoin="miter"/>
<path d="M312.00,398.72L314.60,403.72L309.40,403.72Z" fill="#fff" stroke="#000" stroke-width="0.9" stroke-linejoin="miter"/>
<path d="M305.60,406.20L308.20,411.20L303.00,411.20Z" fill="#fff" stroke="#000" stroke-width="0.9" stroke-linejoin="miter"/>
<path d="M324.60,436.10L327.20,441.10L322.00,441.10Z" fill="#fff" stroke="#000" stroke-width="0.9" stroke-linejoin="miter"/>
<path d="M330.60,440.58L333.20,445.58L328.00,445.58Z" fill="#fff" stroke="#000" stroke-width="0.9" stroke-linejoin="miter"/>
<path d="M336.60,439.84L339.20,444.84L334.00,444.84Z" fill="#fff" stroke="#000" stroke-width="0.9" stroke-linejoin="miter"/>
<path d="M324.60,445.07L327.20,450.07L322.00,450.07Z" fill="#fff" stroke="#000" stroke-width="0.9" stroke-linejoin="miter"/>
<path d="M336.60,444.32L339.20,449.32L334.00,449.32Z" fill="#fff" stroke="#000" stroke-width="0.9" stroke-linejoin="miter"/>
<path d="M330.60,443.57L333.20,448.57L328.00,448.57Z" fill="#fff" stroke="#000" stroke-width="0.9" stroke-linejoin="miter"/>
<path d="M355.40,437.59L358.00,442.59L352.80,442.59Z" fill="#fff" stroke="#000" stroke-width="0.9" stroke-linejoin="miter"/>
<path d="M349.40,448.06L352.00,453.06L346.80,453.06Z" fill="#fff" stroke="#000" stroke-width="0.9" stroke-linejoin="miter"/>
<path d="M361.40,447.31L364.00,452.31L358.80,452.31Z" fill="#fff" stroke="#000" stroke-width="0.9" stroke-linejoin="miter"/>
<path d="M355.40,442.82L358.00,447.82L352.80,447.82Z" fill="#fff" stroke="#000" stroke-width="0.9" stroke-linejoin="miter"/>
<path d="M358.40,445.81L361.00,450.81L355.80,450.81Z" fill="#fff" stroke="#000" stroke-width="0.9" stroke-linejoin="miter"/>
<path d="M298.18,322.41L298.67,324.02L300.36,324.00L298.98,324.97L299.53,326.57L298.18,325.56L296.82,326.57L297.37,324.97L295.99,324.00L297.68,324.02Z" fill="#000" stroke="#000" stroke-width="0.0"/>
<path d="M303.12,322.41L303.62,324.02L305.31,324.00L303.93,324.97L304.48,326.57L303.12,325.56L301.77,326.57L302.32,324.97L300.94,324.00L302.63,324.02Z" fill="#000" stroke="#000" stroke-width="0.0"/>
<path d="M308.07,322.41L308.57,324.02L310.26,324.00L308.88,324.97L309.43,326.57L308.07,325.56L306.72,326.57L307.27,324.97L305.89,324.00L307.58,324.02Z" fill="#000" stroke="#000" stroke-width="0.0"/>
<path d="M313.03,322.41L313.52,324.02L315.21,324.00L313.83,324.97L314.38,326.57L313.03,325.56L311.67,326.57L312.22,324.97L310.84,324.00L312.53,324.02Z" fill="#000" stroke="#000" stroke-width="0.0"/>
<text x="322.06" y="433.61" font-size="8.50" font-weight="normal" fill="#111" textLength="17.07" lengthAdjust="spacingAndGlyphs" stroke="#111" stroke-width="0.25">####</text>
<text x="346.86" y="434.61" font-size="8.50" font-weight="normal" fill="#111" textLength="17.07" lengthAdjust="spacingAndGlyphs" stroke="#111" stroke-width="0.25">####</text>
<path d="M268.90,303.80L268.90,453.30" stroke="#000" stroke-width="1.0" fill="none"/>
<path d="M264.90,453.30L268.90,453.30" stroke="#000" stroke-width="1.0" fill="none"/>
<text x="258.12" y="457.95" font-size="10.00" font-weight="normal" fill="#000" textLength="5.12" lengthAdjust="spacingAndGlyphs" >0</text>
<path d="M264.90,423.40L268.90,423.40" stroke="#000" stroke-width="1.0" fill="none"/>
<text x="242.75" y="428.05" font-size="10.00" font-weight="normal" fill="#000" textLength="20.47" lengthAdjust="spacingAndGlyphs" >2000</text>
<path d="M264.90,393.50L268.90,393.50" stroke="#000" stroke-width="1.0" fill="none"/>
<text x="242.75" y="398.15" font-size="10.00" font-weight="normal" fill="#000" textLength="20.47" lengthAdjust="spacingAndGlyphs" >4000</text>
<path d="M264.90,363.60L268.90,363.60" stroke="#000" stroke-width="1.0" fill="none"/>
<text x="242.75" y="368.25" font-size="10.00" font-weight="normal" fill="#000" textLength="20.47" lengthAdjust="spacingAndGlyphs" >6000</text>
<path d="M264.90,333.70L268.90,333.70" stroke="#000" stroke-width="1.0" fill="none"/>
<text x="242.75" y="338.35" font-size="10.00" font-weight="normal" fill="#000" textLength="20.47" lengthAdjust="spacingAndGlyphs" >8000</text>
<path d="M264.90,303.80L268.90,303.80" stroke="#000" stroke-width="1.0" fill="none"/>
<text x="237.65" y="308.45" font-size="10.00" font-weight="normal" fill="#000" textLength="25.58" lengthAdjust="spacingAndGlyphs" >10000</text>
<path d="M268.90,453.30L366.50,453.30" stroke="#000" stroke-width="1.0" fill="none"/>
<path d="M280.80,453.30L280.80,457.30" stroke="#000" stroke-width="1.0" fill="none"/>
<path d="M305.60,453.30L305.60,457.30" stroke="#000" stroke-width="1.0" fill="none"/>
<path d="M330.60,453.30L330.60,457.30" stroke="#000" stroke-width="1.0" fill="none"/>
<path d="M355.40,453.30L355.40,457.30" stroke="#000" stroke-width="1.0" fill="none"/>
<text transform="translate(282.40,466.30) rotate(-45)" x="0" y="0" font-size="10.5" font-weight="bold" text-anchor="end" textLength="17.14" lengthAdjust="spacingAndGlyphs" stroke="#000" stroke-width="0.25">WT</text>
<text transform="translate(307.20,466.30) rotate(-45)" x="0" y="0" font-size="10.5" font-weight="bold" text-anchor="end" textLength="48.19" lengthAdjust="spacingAndGlyphs" stroke="#000" stroke-width="0.25">AAV-GFP</text>
<text transform="translate(332.20,466.30) rotate(-45)" x="0" y="0" font-size="10.5" font-weight="bold" text-anchor="end" textLength="45.14" lengthAdjust="spacingAndGlyphs" stroke="#000" stroke-width="0.25">AAV-aP2</text>
<text transform="translate(357.00,466.30) rotate(-45)" x="0" y="0" font-size="10.5" font-weight="bold" text-anchor="end" textLength="48.80" lengthAdjust="spacingAndGlyphs" stroke="#000" stroke-width="0.25">AAV-TBG</text>
<text transform="translate(229.80,414.19) rotate(-90)" x="0" y="0" font-size="10.00" font-weight="bold" fill="#000" textLength="74.01" lengthAdjust="spacingAndGlyphs" stroke="#000" stroke-width="0.2">Fgf-21 (pg/mL)</text>
<text x="358.60" y="285.40" font-size="25.00" font-weight="bold" fill="#000" >G</text>
<rect x="431.35" y="442.17" width="16.10" height="10.83" fill="#fff" stroke="#000" stroke-width="1.0"/>
<rect x="456.45" y="362.39" width="16.10" height="90.61" fill="#d3d3d3" stroke="#000" stroke-width="1.0"/>
<rect x="481.45" y="423.34" width="16.10" height="29.66" fill="#ffa040" stroke="#000" stroke-width="1.0"/>
<rect x="506.45" y="404.44" width="16.10" height="48.56" fill="#00c000" stroke="#000" stroke-width="1.0"/>
<path d="M439.40,442.17L439.40,438.81" stroke="#000" stroke-width="1.0" fill="none"/>
<path d="M435.65,438.81L443.15,438.81" stroke="#000" stroke-width="1.0" fill="none"/>
<path d="M439.40,442.17L439.40,445.53" stroke="#000" stroke-width="1.0" fill="none"/>
<path d="M435.65,445.53L443.15,445.53" stroke="#000" stroke-width="1.0" fill="none"/>
<path d="M464.50,362.39L464.50,331.99" stroke="#000" stroke-width="1.0" fill="none"/>
<path d="M460.75,331.99L468.25,331.99" stroke="#000" stroke-width="1.0" fill="none"/>
<path d="M464.50,362.39L464.50,392.31" stroke="#000" stroke-width="1.0" fill="none"/>
<path d="M460.75,392.31L468.25,392.31" stroke="#000" stroke-width="1.0" fill="none"/>
<path d="M489.50,423.34L489.50,396.04" stroke="#000" stroke-width="1.0" fill="none"/>
<path d="M485.75,396.04L493.25,396.04" stroke="#000" stroke-width="1.0" fill="none"/>
<path d="M489.50,423.34L489.50,450.20" stroke="#000" stroke-width="1.0" fill="none"/>
<path d="M485.75,450.20L493.25,450.20" stroke="#000" stroke-width="1.0" fill="none"/>
<path d="M514.50,404.44L514.50,362.39" stroke="#000" stroke-width="1.0" fill="none"/>
<path d="M510.75,362.39L518.25,362.39" stroke="#000" stroke-width="1.0" fill="none"/>
<path d="M514.50,404.44L514.50,445.53" stroke="#000" stroke-width="1.0" fill="none"/>
<path d="M510.75,445.53L518.25,445.53" stroke="#000" stroke-width="1.0" fill="none"/>
<path d="M434.40,438.80L437.00,443.80L431.80,443.80Z" fill="#fff" stroke="#000" stroke-width="0.9" stroke-linejoin="miter"/>
<path d="M436.90,435.81L439.50,440.81L434.30,440.81Z" fill="#fff" stroke="#000" stroke-width="0.9" stroke-linejoin="miter"/>
<path d="M439.90,433.19L442.50,438.19L437.30,438.19Z" fill="#fff" stroke="#000" stroke-width="0.9" stroke-linejoin="miter"/>
<path d="M443.40,434.31L446.00,439.31L440.80,439.31Z" fill="#fff" stroke="#000" stroke-width="0.9" stroke-linejoin="miter"/>
<path d="M445.40,438.80L448.00,443.80L442.80,443.80Z" fill="#fff" stroke="#000" stroke-width="0.9" stroke-linejoin="miter"/>
<path d="M433.40,441.78L436.00,446.78L430.80,446.78Z" fill="#fff" stroke="#000" stroke-width="0.9" stroke-linejoin="miter"/>
<path d="M437.40,440.66L440.00,445.66L434.80,445.66Z" fill="#fff" stroke="#000" stroke-width="0.9" stroke-linejoin="miter"/>
<path d="M441.40,439.92L444.00,444.92L438.80,444.92Z" fill="#fff" stroke="#000" stroke-width="0.9" stroke-linejoin="miter"/>
<path d="M444.40,442.53L447.00,447.53L441.80,447.53Z" fill="#fff" stroke="#000" stroke-width="0.9" stroke-linejoin="miter"/>
<path d="M439.40,444.40L442.00,449.40L436.80,449.40Z" fill="#fff" stroke="#000" stroke-width="0.9" stroke-linejoin="miter"/>
<path d="M435.90,437.67L438.50,442.67L433.30,442.67Z" fill="#fff" stroke="#000" stroke-width="0.9" stroke-linejoin="miter"/>
<path d="M442.90,436.93L445.50,441.93L440.30,441.93Z" fill="#fff" stroke="#000" stroke-width="0.9" stroke-linejoin="miter"/>
<path d="M464.50,308.07L467.10,313.07L461.90,313.07Z" fill="#fff" stroke="#000" stroke-width="0.9" stroke-linejoin="miter"/>
<path d="M464.50,326.75L467.10,331.75L461.90,331.75Z" fill="#fff" stroke="#000" stroke-width="0.9" stroke-linejoin="miter"/>
<path d="M464.50,332.35L467.10,337.35L461.90,337.35Z" fill="#fff" stroke="#000" stroke-width="0.9" stroke-linejoin="miter"/>
<path d="M464.50,337.95L467.10,342.95L461.90,342.95Z" fill="#fff" stroke="#000" stroke-width="0.9" stroke-linejoin="miter"/>
<path d="M464.50,346.17L467.10,351.17L461.90,351.17Z" fill="#fff" stroke="#000" stroke-width="0.9" stroke-linejoin="miter"/>
<path d="M464.50,364.84L467.10,369.84L461.90,369.84Z" fill="#fff" stroke="#000" stroke-width="0.9" stroke-linejoin="miter"/>
<path d="M464.50,376.05L467.10,381.05L461.90,381.05Z" fill="#fff" stroke="#000" stroke-width="0.9" stroke-linejoin="miter"/>
<path d="M458.50,384.26L461.10,389.26L455.90,389.26Z" fill="#fff" stroke="#000" stroke-width="0.9" stroke-linejoin="miter"/>
<path d="M470.60,384.26L473.20,389.26L468.00,389.26Z" fill="#fff" stroke="#000" stroke-width="0.9" stroke-linejoin="miter"/>
<path d="M470.60,393.98L473.20,398.98L468.00,398.98Z" fill="#fff" stroke="#000" stroke-width="0.9" stroke-linejoin="miter"/>
<path d="M458.50,397.34L461.10,402.34L455.90,402.34Z" fill="#fff" stroke="#000" stroke-width="0.9" stroke-linejoin="miter"/>
<path d="M489.50,372.31L492.10,377.31L486.90,377.31Z" fill="#fff" stroke="#000" stroke-width="0.9" stroke-linejoin="miter"/>
<path d="M483.10,430.58L485.70,435.58L480.50,435.58Z" fill="#fff" stroke="#000" stroke-width="0.9" stroke-linejoin="miter"/>
<path d="M489.50,430.58L492.10,435.58L486.90,435.58Z" fill="#fff" stroke="#000" stroke-width="0.9" stroke-linejoin="miter"/>
<path d="M495.50,432.45L498.10,437.45L492.90,437.45Z" fill="#fff" stroke="#000" stroke-width="0.9" stroke-linejoin="miter"/>
<path d="M483.10,436.18L485.70,441.18L480.50,441.18Z" fill="#fff" stroke="#000" stroke-width="0.9" stroke-linejoin="miter"/>
<path d="M514.50,331.97L517.10,336.97L511.90,336.97Z" fill="#fff" stroke="#000" stroke-width="0.9" stroke-linejoin="miter"/>
<path d="M514.50,394.35L517.10,399.35L511.90,399.35Z" fill="#fff" stroke="#000" stroke-width="0.9" stroke-linejoin="miter"/>
<path d="M514.50,415.26L517.10,420.26L511.90,420.26Z" fill="#fff" stroke="#000" stroke-width="0.9" stroke-linejoin="miter"/>
<path d="M508.20,432.45L510.80,437.45L505.60,437.45Z" fill="#fff" stroke="#000" stroke-width="0.9" stroke-linejoin="miter"/>
<path d="M520.50,432.45L523.10,437.45L517.90,437.45Z" fill="#fff" stroke="#000" stroke-width="0.9" stroke-linejoin="miter"/>
<path d="M457.07,301.61L457.57,303.22L459.26,303.20L457.88,304.17L458.43,305.77L457.07,304.76L455.72,305.77L456.27,304.17L454.89,303.20L456.58,303.22Z" fill="#000" stroke="#000" stroke-width="0.0"/>
<path d="M462.02,301.61L462.52,303.22L464.21,303.20L462.83,304.17L463.38,305.77L462.02,304.76L460.67,305.77L461.22,304.17L459.84,303.20L461.53,303.22Z" fill="#000" stroke="#000" stroke-width="0.0"/>
<path d="M466.97,301.61L467.47,303.22L469.16,303.20L467.78,304.17L468.33,305.77L466.97,304.76L465.62,305.77L466.17,304.17L464.79,303.20L466.48,303.22Z" fill="#000" stroke="#000" stroke-width="0.0"/>
<path d="M471.93,301.61L472.42,303.22L474.11,303.20L472.73,304.17L473.28,305.77L471.93,304.76L470.57,305.77L471.12,304.17L469.74,303.20L471.43,303.22Z" fill="#000" stroke="#000" stroke-width="0.0"/>
<text x="483.21" y="361.21" font-size="8.50" font-weight="normal" fill="#111" textLength="12.60" lengthAdjust="spacingAndGlyphs" stroke="#111" stroke-width="0.25">###</text>
<path d="M489.50,365.11L490.00,366.72L491.69,366.70L490.31,367.67L490.85,369.27L489.50,368.26L488.15,369.27L488.69,367.67L487.31,366.70L489.00,366.72Z" fill="#000" stroke="#000" stroke-width="0.0"/>
<text x="512.01" y="321.75" font-size="9.50" font-weight="normal" fill="#111" textLength="5.00" lengthAdjust="spacingAndGlyphs" stroke="#111" stroke-width="0.25">#</text>
<path d="M509.55,325.31L510.05,326.92L511.74,326.90L510.36,327.87L510.90,329.47L509.55,328.46L508.20,329.47L508.74,327.87L507.36,326.90L509.05,326.92Z" fill="#000" stroke="#000" stroke-width="0.0"/>
<path d="M514.50,325.31L515.00,326.92L516.69,326.90L515.31,327.87L515.85,329.47L514.50,328.46L513.15,329.47L513.69,327.87L512.31,326.90L514.00,326.92Z" fill="#000" stroke="#000" stroke-width="0.0"/>
<path d="M519.45,325.31L519.95,326.92L521.64,326.90L520.26,327.87L520.80,329.47L519.45,328.46L518.10,329.47L518.64,327.87L517.26,326.90L518.95,326.92Z" fill="#000" stroke="#000" stroke-width="0.0"/>
<path d="M427.00,303.60L427.00,453.00" stroke="#000" stroke-width="1.0" fill="none"/>
<path d="M423.00,453.00L427.00,453.00" stroke="#000" stroke-width="1.0" fill="none"/>
<text x="416.22" y="457.65" font-size="10.00" font-weight="normal" fill="#000" textLength="5.12" lengthAdjust="spacingAndGlyphs" >0</text>
<path d="M423.00,415.65L427.00,415.65" stroke="#000" stroke-width="1.0" fill="none"/>
<text x="406.00" y="420.30" font-size="10.00" font-weight="normal" fill="#000" textLength="15.35" lengthAdjust="spacingAndGlyphs" >100</text>
<path d="M423.00,378.30L427.00,378.30" stroke="#000" stroke-width="1.0" fill="none"/>
<text x="406.00" y="382.95" font-size="10.00" font-weight="normal" fill="#000" textLength="15.35" lengthAdjust="spacingAndGlyphs" >200</text>
<path d="M423.00,340.95L427.00,340.95" stroke="#000" stroke-width="1.0" fill="none"/>
<text x="406.00" y="345.60" font-size="10.00" font-weight="normal" fill="#000" textLength="15.35" lengthAdjust="spacingAndGlyphs" >300</text>
<path d="M423.00,303.60L427.00,303.60" stroke="#000" stroke-width="1.0" fill="none"/>
<text x="406.00" y="308.25" font-size="10.00" font-weight="normal" fill="#000" textLength="15.35" lengthAdjust="spacingAndGlyphs" >400</text>
<path d="M427.00,453.00L526.50,453.00" stroke="#000" stroke-width="1.0" fill="none"/>
<path d="M439.40,453.00L439.40,457.00" stroke="#000" stroke-width="1.0" fill="none"/>
<path d="M464.50,453.00L464.50,457.00" stroke="#000" stroke-width="1.0" fill="none"/>
<path d="M489.50,453.00L489.50,457.00" stroke="#000" stroke-width="1.0" fill="none"/>
<path d="M514.50,453.00L514.50,457.00" stroke="#000" stroke-width="1.0" fill="none"/>
<text transform="translate(441.00,466.00) rotate(-45)" x="0" y="0" font-size="10.5" font-weight="bold" text-anchor="end" textLength="17.14" lengthAdjust="spacingAndGlyphs" stroke="#000" stroke-width="0.25">WT</text>
<text transform="translate(466.10,466.00) rotate(-45)" x="0" y="0" font-size="10.5" font-weight="bold" text-anchor="end" textLength="48.19" lengthAdjust="spacingAndGlyphs" stroke="#000" stroke-width="0.25">AAV-GFP</text>
<text transform="translate(491.10,466.00) rotate(-45)" x="0" y="0" font-size="10.5" font-weight="bold" text-anchor="end" textLength="45.14" lengthAdjust="spacingAndGlyphs" stroke="#000" stroke-width="0.25">AAV-aP2</text>
<text transform="translate(516.10,466.00) rotate(-45)" x="0" y="0" font-size="10.5" font-weight="bold" text-anchor="end" textLength="48.80" lengthAdjust="spacingAndGlyphs" stroke="#000" stroke-width="0.25">AAV-TBG</text>
<text transform="translate(399.10,402.69) rotate(-90)" x="0" y="0" font-size="10.00" font-weight="bold" fill="#000" textLength="50.96" lengthAdjust="spacingAndGlyphs" stroke="#000" stroke-width="0.2">ALT (U/L)</text>
<text x="516.58" y="285.00" font-size="25.00" font-weight="bold" fill="#000" >H</text>
<rect x="589.30" y="424.44" width="16.20" height="28.06" fill="#fff" stroke="#000" stroke-width="1.0"/>
<rect x="614.30" y="388.14" width="16.20" height="64.36" fill="#d3d3d3" stroke="#000" stroke-width="1.0"/>
<rect x="639.10" y="415.45" width="16.20" height="37.05" fill="#ffa040" stroke="#000" stroke-width="1.0"/>
<rect x="663.90" y="404.23" width="16.20" height="48.27" fill="#00c000" stroke="#000" stroke-width="1.0"/>
<path d="M597.40,424.44L597.40,411.90" stroke="#000" stroke-width="1.0" fill="none"/>
<path d="M593.65,411.90L601.15,411.90" stroke="#000" stroke-width="1.0" fill="none"/>
<path d="M597.40,424.44L597.40,433.79" stroke="#000" stroke-width="1.0" fill="none"/>
<path d="M593.65,433.79L601.15,433.79" stroke="#000" stroke-width="1.0" fill="none"/>
<path d="M622.40,388.14L622.40,361.57" stroke="#000" stroke-width="1.0" fill="none"/>
<path d="M618.65,361.57L626.15,361.57" stroke="#000" stroke-width="1.0" fill="none"/>
<path d="M622.40,388.14L622.40,415.08" stroke="#000" stroke-width="1.0" fill="none"/>
<path d="M618.65,415.08L626.15,415.08" stroke="#000" stroke-width="1.0" fill="none"/>
<path d="M647.20,415.45L647.20,407.22" stroke="#000" stroke-width="1.0" fill="none"/>
<path d="M643.45,407.22L650.95,407.22" stroke="#000" stroke-width="1.0" fill="none"/>
<path d="M647.20,415.45L647.20,423.13" stroke="#000" stroke-width="1.0" fill="none"/>
<path d="M643.45,423.13L650.95,423.13" stroke="#000" stroke-width="1.0" fill="none"/>
<path d="M672.00,404.23L672.00,381.21" stroke="#000" stroke-width="1.0" fill="none"/>
<path d="M668.25,381.21L675.75,381.21" stroke="#000" stroke-width="1.0" fill="none"/>
<path d="M672.00,404.23L672.00,426.12" stroke="#000" stroke-width="1.0" fill="none"/>
<path d="M668.25,426.12L675.75,426.12" stroke="#000" stroke-width="1.0" fill="none"/>
<path d="M594.70,400.67L597.30,405.67L592.10,405.67Z" fill="#fff" stroke="#000" stroke-width="0.9" stroke-linejoin="miter"/>
<path d="M598.90,399.92L601.50,404.92L596.30,404.92Z" fill="#fff" stroke="#000" stroke-width="0.9" stroke-linejoin="miter"/>
<path d="M597.40,413.39L600.00,418.39L594.80,418.39Z" fill="#fff" stroke="#000" stroke-width="0.9" stroke-linejoin="miter"/>
<path d="M591.40,420.50L594.00,425.50L588.80,425.50Z" fill="#fff" stroke="#000" stroke-width="0.9" stroke-linejoin="miter"/>
<path d="M594.40,421.44L597.00,426.44L591.80,426.44Z" fill="#fff" stroke="#000" stroke-width="0.9" stroke-linejoin="miter"/>
<path d="M597.40,419.56L600.00,424.56L594.80,424.56Z" fill="#fff" stroke="#000" stroke-width="0.9" stroke-linejoin="miter"/>
<path d="M600.40,421.06L603.00,426.06L597.80,426.06Z" fill="#fff" stroke="#000" stroke-width="0.9" stroke-linejoin="miter"/>
<path d="M603.40,420.50L606.00,425.50L600.80,425.50Z" fill="#fff" stroke="#000" stroke-width="0.9" stroke-linejoin="miter"/>
<path d="M593.40,425.18L596.00,430.18L590.80,430.18Z" fill="#fff" stroke="#000" stroke-width="0.9" stroke-linejoin="miter"/>
<path d="M597.40,423.31L600.00,428.31L594.80,428.31Z" fill="#fff" stroke="#000" stroke-width="0.9" stroke-linejoin="miter"/>
<path d="M601.40,426.11L604.00,431.11L598.80,431.11Z" fill="#fff" stroke="#000" stroke-width="0.9" stroke-linejoin="miter"/>
<path d="M595.60,433.60L598.20,438.60L593.00,438.60Z" fill="#fff" stroke="#000" stroke-width="0.9" stroke-linejoin="miter"/>
<path d="M599.40,432.29L602.00,437.29L596.80,437.29Z" fill="#fff" stroke="#000" stroke-width="0.9" stroke-linejoin="miter"/>
<path d="M597.40,428.92L600.00,433.92L594.80,433.92Z" fill="#fff" stroke="#000" stroke-width="0.9" stroke-linejoin="miter"/>
<path d="M622.40,332.75L625.00,337.75L619.80,337.75Z" fill="#fff" stroke="#000" stroke-width="0.9" stroke-linejoin="miter"/>
<path d="M622.40,349.96L625.00,354.96L619.80,354.96Z" fill="#fff" stroke="#000" stroke-width="0.9" stroke-linejoin="miter"/>
<path d="M622.40,369.98L625.00,374.98L619.80,374.98Z" fill="#fff" stroke="#000" stroke-width="0.9" stroke-linejoin="miter"/>
<path d="M628.40,380.83L631.00,385.83L625.80,385.83Z" fill="#fff" stroke="#000" stroke-width="0.9" stroke-linejoin="miter"/>
<path d="M616.20,384.58L618.80,389.58L613.60,389.58Z" fill="#fff" stroke="#000" stroke-width="0.9" stroke-linejoin="miter"/>
<path d="M628.40,385.70L631.00,390.70L625.80,390.70Z" fill="#fff" stroke="#000" stroke-width="0.9" stroke-linejoin="miter"/>
<path d="M622.40,395.24L625.00,400.24L619.80,400.24Z" fill="#fff" stroke="#000" stroke-width="0.9" stroke-linejoin="miter"/>
<path d="M622.40,403.47L625.00,408.47L619.80,408.47Z" fill="#fff" stroke="#000" stroke-width="0.9" stroke-linejoin="miter"/>
<path d="M616.20,410.77L618.80,415.77L613.60,415.77Z" fill="#fff" stroke="#000" stroke-width="0.9" stroke-linejoin="miter"/>
<path d="M628.40,410.77L631.00,415.77L625.80,415.77Z" fill="#fff" stroke="#000" stroke-width="0.9" stroke-linejoin="miter"/>
<path d="M622.40,419.00L625.00,424.00L619.80,424.00Z" fill="#fff" stroke="#000" stroke-width="0.9" stroke-linejoin="miter"/>
<path d="M647.20,401.60L649.80,406.60L644.60,406.60Z" fill="#fff" stroke="#000" stroke-width="0.9" stroke-linejoin="miter"/>
<path d="M641.20,412.45L643.80,417.45L638.60,417.45Z" fill="#fff" stroke="#000" stroke-width="0.9" stroke-linejoin="miter"/>
<path d="M653.40,407.96L656.00,412.96L650.80,412.96Z" fill="#fff" stroke="#000" stroke-width="0.9" stroke-linejoin="miter"/>
<path d="M641.20,420.13L643.80,425.13L638.60,425.13Z" fill="#fff" stroke="#000" stroke-width="0.9" stroke-linejoin="miter"/>
<path d="M653.40,419.75L656.00,424.75L650.80,424.75Z" fill="#fff" stroke="#000" stroke-width="0.9" stroke-linejoin="miter"/>
<path d="M665.80,376.91L668.40,381.91L663.20,381.91Z" fill="#fff" stroke="#000" stroke-width="0.9" stroke-linejoin="miter"/>
<path d="M678.20,380.09L680.80,385.09L675.60,385.09Z" fill="#fff" stroke="#000" stroke-width="0.9" stroke-linejoin="miter"/>
<path d="M672.00,405.16L674.60,410.16L669.40,410.16Z" fill="#fff" stroke="#000" stroke-width="0.9" stroke-linejoin="miter"/>
<path d="M672.00,415.82L674.60,420.82L669.40,420.82Z" fill="#fff" stroke="#000" stroke-width="0.9" stroke-linejoin="miter"/>
<path d="M672.00,427.05L674.60,432.05L669.40,432.05Z" fill="#fff" stroke="#000" stroke-width="0.9" stroke-linejoin="miter"/>
<path d="M619.92,325.71L620.42,327.32L622.11,327.30L620.73,328.27L621.28,329.87L619.92,328.86L618.57,329.87L619.12,328.27L617.74,327.30L619.43,327.32Z" fill="#000" stroke="#000" stroke-width="0.0"/>
<path d="M624.88,325.71L625.37,327.32L627.06,327.30L625.68,328.27L626.23,329.87L624.88,328.86L623.52,329.87L624.07,328.27L622.69,327.30L624.38,327.32Z" fill="#000" stroke="#000" stroke-width="0.0"/>
<text x="644.71" y="399.75" font-size="9.50" font-weight="normal" fill="#111" textLength="5.00" lengthAdjust="spacingAndGlyphs" stroke="#111" stroke-width="0.25">#</text>
<path d="M584.60,302.82L584.60,452.50" stroke="#000" stroke-width="1.0" fill="none"/>
<path d="M580.60,452.50L584.60,452.50" stroke="#000" stroke-width="1.0" fill="none"/>
<text x="573.82" y="457.15" font-size="10.00" font-weight="normal" fill="#000" textLength="5.12" lengthAdjust="spacingAndGlyphs" >0</text>
<path d="M580.60,415.08L584.60,415.08" stroke="#000" stroke-width="1.0" fill="none"/>
<text x="563.60" y="419.73" font-size="10.00" font-weight="normal" fill="#000" textLength="15.35" lengthAdjust="spacingAndGlyphs" >200</text>
<path d="M580.60,377.66L584.60,377.66" stroke="#000" stroke-width="1.0" fill="none"/>
<text x="563.60" y="382.31" font-size="10.00" font-weight="normal" fill="#000" textLength="15.35" lengthAdjust="spacingAndGlyphs" >400</text>
<path d="M580.60,340.24L584.60,340.24" stroke="#000" stroke-width="1.0" fill="none"/>
<text x="563.60" y="344.89" font-size="10.00" font-weight="normal" fill="#000" textLength="15.35" lengthAdjust="spacingAndGlyphs" >600</text>
<path d="M580.60,302.82L584.60,302.82" stroke="#000" stroke-width="1.0" fill="none"/>
<text x="563.60" y="307.47" font-size="10.00" font-weight="normal" fill="#000" textLength="15.35" lengthAdjust="spacingAndGlyphs" >800</text>
<path d="M584.60,452.50L685.00,452.50" stroke="#000" stroke-width="1.0" fill="none"/>
<path d="M597.40,452.50L597.40,456.50" stroke="#000" stroke-width="1.0" fill="none"/>
<path d="M622.40,452.50L622.40,456.50" stroke="#000" stroke-width="1.0" fill="none"/>
<path d="M647.20,452.50L647.20,456.50" stroke="#000" stroke-width="1.0" fill="none"/>
<path d="M672.00,452.50L672.00,456.50" stroke="#000" stroke-width="1.0" fill="none"/>
<text transform="translate(599.00,465.50) rotate(-45)" x="0" y="0" font-size="10.5" font-weight="bold" text-anchor="end" textLength="17.14" lengthAdjust="spacingAndGlyphs" stroke="#000" stroke-width="0.25">WT</text>
<text transform="translate(624.00,465.50) rotate(-45)" x="0" y="0" font-size="10.5" font-weight="bold" text-anchor="end" textLength="48.19" lengthAdjust="spacingAndGlyphs" stroke="#000" stroke-width="0.25">AAV-GFP</text>
<text transform="translate(648.80,465.50) rotate(-45)" x="0" y="0" font-size="10.5" font-weight="bold" text-anchor="end" textLength="45.14" lengthAdjust="spacingAndGlyphs" stroke="#000" stroke-width="0.25">AAV-aP2</text>
<text transform="translate(673.60,465.50) rotate(-45)" x="0" y="0" font-size="10.5" font-weight="bold" text-anchor="end" textLength="48.80" lengthAdjust="spacingAndGlyphs" stroke="#000" stroke-width="0.25">AAV-TBG</text>
<text transform="translate(557.00,402.18) rotate(-90)" x="0" y="0" font-size="10.00" font-weight="bold" fill="#000" textLength="51.55" lengthAdjust="spacingAndGlyphs" stroke="#000" stroke-width="0.2">AST (U/L)</text>
<text x="15.27" y="546.30" font-size="25.00" font-weight="bold" fill="#000" >I</text>
<rect x="36.70" y="651.98" width="16.00" height="62.62" fill="#fff" stroke="#000" stroke-width="1.0"/>
<rect x="61.50" y="659.10" width="16.00" height="55.50" fill="#d3d3d3" stroke="#000" stroke-width="1.0"/>
<rect x="86.70" y="680.10" width="16.00" height="34.50" fill="#ffa040" stroke="#000" stroke-width="1.0"/>
<rect x="111.60" y="705.00" width="16.00" height="9.60" fill="#00c000" stroke="#000" stroke-width="1.0"/>
<path d="M44.70,651.98L44.70,630.60" stroke="#000" stroke-width="1.0" fill="none"/>
<path d="M40.95,630.60L48.45,630.60" stroke="#000" stroke-width="1.0" fill="none"/>
<path d="M44.70,651.98L44.70,672.60" stroke="#000" stroke-width="1.0" fill="none"/>
<path d="M40.95,672.60L48.45,672.60" stroke="#000" stroke-width="1.0" fill="none"/>
<path d="M69.50,659.10L69.50,639.60" stroke="#000" stroke-width="1.0" fill="none"/>
<path d="M65.75,639.60L73.25,639.60" stroke="#000" stroke-width="1.0" fill="none"/>
<path d="M69.50,659.10L69.50,676.35" stroke="#000" stroke-width="1.0" fill="none"/>
<path d="M65.75,676.35L73.25,676.35" stroke="#000" stroke-width="1.0" fill="none"/>
<path d="M94.70,680.10L94.70,674.10" stroke="#000" stroke-width="1.0" fill="none"/>
<path d="M90.95,674.10L98.45,674.10" stroke="#000" stroke-width="1.0" fill="none"/>
<path d="M94.70,680.10L94.70,686.85" stroke="#000" stroke-width="1.0" fill="none"/>
<path d="M90.95,686.85L98.45,686.85" stroke="#000" stroke-width="1.0" fill="none"/>
<path d="M119.60,705.00L119.60,702.23" stroke="#000" stroke-width="1.0" fill="none"/>
<path d="M115.85,702.23L123.35,702.23" stroke="#000" stroke-width="1.0" fill="none"/>
<path d="M119.60,705.00L119.60,707.85" stroke="#000" stroke-width="1.0" fill="none"/>
<path d="M115.85,707.85L123.35,707.85" stroke="#000" stroke-width="1.0" fill="none"/>
<path d="M44.70,593.85L47.30,598.85L42.10,598.85Z" fill="#fff" stroke="#000" stroke-width="0.9" stroke-linejoin="miter"/>
<path d="M44.70,635.10L47.30,640.10L42.10,640.10Z" fill="#fff" stroke="#000" stroke-width="0.9" stroke-linejoin="miter"/>
<path d="M44.70,641.85L47.30,646.85L42.10,646.85Z" fill="#fff" stroke="#000" stroke-width="0.9" stroke-linejoin="miter"/>
<path d="M51.20,641.10L53.80,646.10L48.60,646.10Z" fill="#fff" stroke="#000" stroke-width="0.9" stroke-linejoin="miter"/>
<path d="M38.50,644.85L41.10,649.85L35.90,649.85Z" fill="#fff" stroke="#000" stroke-width="0.9" stroke-linejoin="miter"/>
<path d="M44.70,647.10L47.30,652.10L42.10,652.10Z" fill="#fff" stroke="#000" stroke-width="0.9" stroke-linejoin="miter"/>
<path d="M38.50,652.35L41.10,657.35L35.90,657.35Z" fill="#fff" stroke="#000" stroke-width="0.9" stroke-linejoin="miter"/>
<path d="M42.00,651.60L44.60,656.60L39.40,656.60Z" fill="#fff" stroke="#000" stroke-width="0.9" stroke-linejoin="miter"/>
<path d="M48.90,651.60L51.50,656.60L46.30,656.60Z" fill="#fff" stroke="#000" stroke-width="0.9" stroke-linejoin="miter"/>
<path d="M38.50,658.35L41.10,663.35L35.90,663.35Z" fill="#fff" stroke="#000" stroke-width="0.9" stroke-linejoin="miter"/>
<path d="M44.70,661.35L47.30,666.35L42.10,666.35Z" fill="#fff" stroke="#000" stroke-width="0.9" stroke-linejoin="miter"/>
<path d="M51.20,659.10L53.80,664.10L48.60,664.10Z" fill="#fff" stroke="#000" stroke-width="0.9" stroke-linejoin="miter"/>
<path d="M44.70,668.10L47.30,673.10L42.10,673.10Z" fill="#fff" stroke="#000" stroke-width="0.9" stroke-linejoin="miter"/>
<path d="M44.70,677.10L47.30,682.10L42.10,682.10Z" fill="#fff" stroke="#000" stroke-width="0.9" stroke-linejoin="miter"/>
<path d="M69.80,629.85L72.40,634.85L67.20,634.85Z" fill="#fff" stroke="#000" stroke-width="0.9" stroke-linejoin="miter"/>
<path d="M69.80,635.10L72.40,640.10L67.20,640.10Z" fill="#fff" stroke="#000" stroke-width="0.9" stroke-linejoin="miter"/>
<path d="M63.70,647.85L66.30,652.85L61.10,652.85Z" fill="#fff" stroke="#000" stroke-width="0.9" stroke-linejoin="miter"/>
<path d="M76.00,645.60L78.60,650.60L73.40,650.60Z" fill="#fff" stroke="#000" stroke-width="0.9" stroke-linejoin="miter"/>
<path d="M71.70,646.35L74.30,651.35L69.10,651.35Z" fill="#fff" stroke="#000" stroke-width="0.9" stroke-linejoin="miter"/>
<path d="M66.50,648.60L69.10,653.60L63.90,653.60Z" fill="#fff" stroke="#000" stroke-width="0.9" stroke-linejoin="miter"/>
<path d="M69.80,653.85L72.40,658.85L67.20,658.85Z" fill="#fff" stroke="#000" stroke-width="0.9" stroke-linejoin="miter"/>
<path d="M71.70,668.85L74.30,673.85L69.10,673.85Z" fill="#fff" stroke="#000" stroke-width="0.9" stroke-linejoin="miter"/>
<path d="M66.90,673.35L69.50,678.35L64.30,678.35Z" fill="#fff" stroke="#000" stroke-width="0.9" stroke-linejoin="miter"/>
<path d="M71.70,681.60L74.30,686.60L69.10,686.60Z" fill="#fff" stroke="#000" stroke-width="0.9" stroke-linejoin="miter"/>
<path d="M66.90,686.85L69.50,691.85L64.30,691.85Z" fill="#fff" stroke="#000" stroke-width="0.9" stroke-linejoin="miter"/>
<path d="M88.40,671.85L91.00,676.85L85.80,676.85Z" fill="#fff" stroke="#000" stroke-width="0.9" stroke-linejoin="miter"/>
<path d="M100.70,671.85L103.30,676.85L98.10,676.85Z" fill="#fff" stroke="#000" stroke-width="0.9" stroke-linejoin="miter"/>
<path d="M88.40,677.10L91.00,682.10L85.80,682.10Z" fill="#fff" stroke="#000" stroke-width="0.9" stroke-linejoin="miter"/>
<path d="M100.70,680.85L103.30,685.85L98.10,685.85Z" fill="#fff" stroke="#000" stroke-width="0.9" stroke-linejoin="miter"/>
<path d="M94.50,687.60L97.10,692.60L91.90,692.60Z" fill="#fff" stroke="#000" stroke-width="0.9" stroke-linejoin="miter"/>
<path d="M113.50,697.50L116.10,702.50L110.90,702.50Z" fill="#fff" stroke="#000" stroke-width="0.9" stroke-linejoin="miter"/>
<path d="M117.50,702.30L120.10,707.30L114.90,707.30Z" fill="#fff" stroke="#000" stroke-width="0.9" stroke-linejoin="miter"/>
<path d="M121.50,703.73L124.10,708.73L118.90,708.73Z" fill="#fff" stroke="#000" stroke-width="0.9" stroke-linejoin="miter"/>
<path d="M125.50,701.18L128.10,706.18L122.90,706.18Z" fill="#fff" stroke="#000" stroke-width="0.9" stroke-linejoin="miter"/>
<path d="M113.50,704.77L116.10,709.77L110.90,709.77Z" fill="#fff" stroke="#000" stroke-width="0.9" stroke-linejoin="miter"/>
<path d="M94.70,664.91L95.20,666.52L96.89,666.50L95.51,667.47L96.05,669.07L94.70,668.06L93.35,669.07L93.89,667.47L92.51,666.50L94.20,666.52Z" fill="#000" stroke="#000" stroke-width="0.0"/>
<text x="114.16" y="687.91" font-size="8.50" font-weight="normal" fill="#111" textLength="12.90" lengthAdjust="spacingAndGlyphs" stroke="#111" stroke-width="0.25">###</text>
<path d="M112.17,691.51L112.67,693.12L114.36,693.10L112.98,694.07L113.53,695.67L112.17,694.66L110.82,695.67L111.37,694.07L109.99,693.10L111.68,693.12Z" fill="#000" stroke="#000" stroke-width="0.0"/>
<path d="M117.12,691.51L117.62,693.12L119.31,693.10L117.93,694.07L118.48,695.67L117.12,694.66L115.77,695.67L116.32,694.07L114.94,693.10L116.63,693.12Z" fill="#000" stroke="#000" stroke-width="0.0"/>
<path d="M122.08,691.51L122.57,693.12L124.26,693.10L122.88,694.07L123.43,695.67L122.08,694.66L120.72,695.67L121.27,694.07L119.89,693.10L121.58,693.12Z" fill="#000" stroke="#000" stroke-width="0.0"/>
<path d="M127.03,691.51L127.52,693.12L129.21,693.10L127.83,694.07L128.38,695.67L127.03,694.66L125.67,695.67L126.22,694.07L124.84,693.10L126.53,693.12Z" fill="#000" stroke="#000" stroke-width="0.0"/>
<path d="M32.80,564.60L32.80,714.60" stroke="#000" stroke-width="1.0" fill="none"/>
<path d="M28.80,714.60L32.80,714.60" stroke="#000" stroke-width="1.0" fill="none"/>
<text x="14.33" y="719.25" font-size="10.00" font-weight="normal" fill="#000" textLength="12.79" lengthAdjust="spacingAndGlyphs" >0.0</text>
<path d="M28.80,677.10L32.80,677.10" stroke="#000" stroke-width="1.0" fill="none"/>
<text x="14.38" y="681.75" font-size="10.00" font-weight="normal" fill="#000" textLength="12.79" lengthAdjust="spacingAndGlyphs" >0.5</text>
<path d="M28.80,639.60L32.80,639.60" stroke="#000" stroke-width="1.0" fill="none"/>
<text x="14.33" y="644.25" font-size="10.00" font-weight="normal" fill="#000" textLength="12.79" lengthAdjust="spacingAndGlyphs" >1.0</text>
<path d="M28.80,602.10L32.80,602.10" stroke="#000" stroke-width="1.0" fill="none"/>
<text x="14.38" y="606.70" font-size="10.00" font-weight="normal" fill="#000" textLength="12.79" lengthAdjust="spacingAndGlyphs" >1.5</text>
<path d="M28.80,564.60L32.80,564.60" stroke="#000" stroke-width="1.0" fill="none"/>
<text x="14.33" y="569.25" font-size="10.00" font-weight="normal" fill="#000" textLength="12.79" lengthAdjust="spacingAndGlyphs" >2.0</text>
<path d="M32.80,714.60L131.50,714.60" stroke="#000" stroke-width="1.0" fill="none"/>
<path d="M44.70,714.60L44.70,718.60" stroke="#000" stroke-width="1.0" fill="none"/>
<path d="M69.50,714.60L69.50,718.60" stroke="#000" stroke-width="1.0" fill="none"/>
<path d="M94.70,714.60L94.70,718.60" stroke="#000" stroke-width="1.0" fill="none"/>
<path d="M119.60,714.60L119.60,718.60" stroke="#000" stroke-width="1.0" fill="none"/>
<text transform="translate(46.30,727.60) rotate(-45)" x="0" y="0" font-size="10.5" font-weight="bold" text-anchor="end" textLength="17.14" lengthAdjust="spacingAndGlyphs" stroke="#000" stroke-width="0.25">WT</text>
<text transform="translate(71.10,727.60) rotate(-45)" x="0" y="0" font-size="10.5" font-weight="bold" text-anchor="end" textLength="48.19" lengthAdjust="spacingAndGlyphs" stroke="#000" stroke-width="0.25">AAV-GFP</text>
<text transform="translate(96.30,727.60) rotate(-45)" x="0" y="0" font-size="10.5" font-weight="bold" text-anchor="end" textLength="45.14" lengthAdjust="spacingAndGlyphs" stroke="#000" stroke-width="0.25">AAV-aP2</text>
<text transform="translate(121.20,727.60) rotate(-45)" x="0" y="0" font-size="10.5" font-weight="bold" text-anchor="end" textLength="48.80" lengthAdjust="spacingAndGlyphs" stroke="#000" stroke-width="0.25">AAV-TBG</text>
<text transform="translate(7.00,688.82) rotate(-90)" x="0" y="0" font-size="10.00" font-weight="bold" fill="#000" textLength="99.84" lengthAdjust="spacingAndGlyphs" stroke="#000" stroke-width="0.2">Serum TG (mmol/L)</text>
<text x="200.62" y="546.10" font-size="25.00" font-weight="bold" fill="#000" >J</text>
<rect x="271.35" y="686.98" width="13.30" height="27.62" fill="#fff" stroke="#000" stroke-width="1.0"/>
<rect x="291.35" y="611.96" width="13.30" height="102.64" fill="#d3d3d3" stroke="#000" stroke-width="1.0"/>
<rect x="311.15" y="661.37" width="13.30" height="53.23" fill="#000" stroke="#000" stroke-width="1.0"/>
<rect x="331.05" y="667.57" width="13.30" height="47.03" fill="#ffa040" stroke="#000" stroke-width="1.0"/>
<rect x="351.35" y="655.63" width="13.30" height="58.97" fill="#00c000" stroke="#000" stroke-width="1.0"/>
<path d="M278.00,686.98L278.00,681.01" stroke="#000" stroke-width="1.0" fill="none"/>
<path d="M275.25,681.01L280.75,681.01" stroke="#000" stroke-width="1.0" fill="none"/>
<path d="M278.00,686.98L278.00,692.21" stroke="#000" stroke-width="1.0" fill="none"/>
<path d="M275.25,692.21L280.75,692.21" stroke="#000" stroke-width="1.0" fill="none"/>
<path d="M298.00,611.96L298.00,599.64" stroke="#000" stroke-width="1.0" fill="none"/>
<path d="M295.25,599.64L300.75,599.64" stroke="#000" stroke-width="1.0" fill="none"/>
<path d="M298.00,611.96L298.00,624.27" stroke="#000" stroke-width="1.0" fill="none"/>
<path d="M295.25,624.27L300.75,624.27" stroke="#000" stroke-width="1.0" fill="none"/>
<path d="M317.80,661.37L317.80,648.39" stroke="#000" stroke-width="1.0" fill="none"/>
<path d="M315.05,648.39L320.55,648.39" stroke="#000" stroke-width="1.0" fill="none"/>
<path d="M317.80,661.37L317.80,674.29" stroke="#000" stroke-width="1.0" fill="none"/>
<path d="M315.05,674.29L320.55,674.29" stroke="#000" stroke-width="1.0" fill="none"/>
<path d="M337.70,667.57L337.70,659.36" stroke="#000" stroke-width="1.0" fill="none"/>
<path d="M334.95,659.36L340.45,659.36" stroke="#000" stroke-width="1.0" fill="none"/>
<path d="M337.70,667.57L337.70,673.54" stroke="#000" stroke-width="1.0" fill="none"/>
<path d="M334.95,673.54L340.45,673.54" stroke="#000" stroke-width="1.0" fill="none"/>
<path d="M358.00,655.63L358.00,642.19" stroke="#000" stroke-width="1.0" fill="none"/>
<path d="M355.25,642.19L360.75,642.19" stroke="#000" stroke-width="1.0" fill="none"/>
<path d="M358.00,655.63L358.00,669.06" stroke="#000" stroke-width="1.0" fill="none"/>
<path d="M355.25,669.06L360.75,669.06" stroke="#000" stroke-width="1.0" fill="none"/>
<path d="M278.00,666.81L280.60,671.81L275.40,671.81Z" fill="#fff" stroke="#000" stroke-width="0.9" stroke-linejoin="miter"/>
<path d="M276.00,675.77L278.60,680.77L273.40,680.77Z" fill="#fff" stroke="#000" stroke-width="0.9" stroke-linejoin="miter"/>
<path d="M280.00,676.51L282.60,681.51L277.40,681.51Z" fill="#fff" stroke="#000" stroke-width="0.9" stroke-linejoin="miter"/>
<path d="M274.00,678.75L276.60,683.75L271.40,683.75Z" fill="#fff" stroke="#000" stroke-width="0.9" stroke-linejoin="miter"/>
<path d="M278.00,679.50L280.60,684.50L275.40,684.50Z" fill="#fff" stroke="#000" stroke-width="0.9" stroke-linejoin="miter"/>
<path d="M282.00,678.75L284.60,683.75L279.40,683.75Z" fill="#fff" stroke="#000" stroke-width="0.9" stroke-linejoin="miter"/>
<path d="M273.00,681.74L275.60,686.74L270.40,686.74Z" fill="#fff" stroke="#000" stroke-width="0.9" stroke-linejoin="miter"/>
<path d="M276.50,682.49L279.10,687.49L273.90,687.49Z" fill="#fff" stroke="#000" stroke-width="0.9" stroke-linejoin="miter"/>
<path d="M280.00,683.23L282.60,688.23L277.40,688.23Z" fill="#fff" stroke="#000" stroke-width="0.9" stroke-linejoin="miter"/>
<path d="M283.00,681.74L285.60,686.74L280.40,686.74Z" fill="#fff" stroke="#000" stroke-width="0.9" stroke-linejoin="miter"/>
<path d="M274.00,685.47L276.60,690.47L271.40,690.47Z" fill="#fff" stroke="#000" stroke-width="0.9" stroke-linejoin="miter"/>
<path d="M278.00,686.22L280.60,691.22L275.40,691.22Z" fill="#fff" stroke="#000" stroke-width="0.9" stroke-linejoin="miter"/>
<path d="M282.00,685.47L284.60,690.47L279.40,690.47Z" fill="#fff" stroke="#000" stroke-width="0.9" stroke-linejoin="miter"/>
<path d="M273.00,688.46L275.60,693.46L270.40,693.46Z" fill="#fff" stroke="#000" stroke-width="0.9" stroke-linejoin="miter"/>
<path d="M276.50,689.21L279.10,694.21L273.90,694.21Z" fill="#fff" stroke="#000" stroke-width="0.9" stroke-linejoin="miter"/>
<path d="M280.00,688.46L282.60,693.46L277.40,693.46Z" fill="#fff" stroke="#000" stroke-width="0.9" stroke-linejoin="miter"/>
<path d="M283.00,688.46L285.60,693.46L280.40,693.46Z" fill="#fff" stroke="#000" stroke-width="0.9" stroke-linejoin="miter"/>
<path d="M298.00,579.84L300.60,584.84L295.40,584.84Z" fill="#fff" stroke="#000" stroke-width="0.9" stroke-linejoin="miter"/>
<path d="M298.00,596.64L300.60,601.64L295.40,601.64Z" fill="#fff" stroke="#000" stroke-width="0.9" stroke-linejoin="miter"/>
<path d="M298.00,599.62L300.60,604.62L295.40,604.62Z" fill="#fff" stroke="#000" stroke-width="0.9" stroke-linejoin="miter"/>
<path d="M298.00,601.86L300.60,606.86L295.40,606.86Z" fill="#fff" stroke="#000" stroke-width="0.9" stroke-linejoin="miter"/>
<path d="M298.00,604.10L300.60,609.10L295.40,609.10Z" fill="#fff" stroke="#000" stroke-width="0.9" stroke-linejoin="miter"/>
<path d="M293.50,607.09L296.10,612.09L290.90,612.09Z" fill="#fff" stroke="#000" stroke-width="0.9" stroke-linejoin="miter"/>
<path d="M298.00,607.09L300.60,612.09L295.40,612.09Z" fill="#fff" stroke="#000" stroke-width="0.9" stroke-linejoin="miter"/>
<path d="M302.50,607.09L305.10,612.09L299.90,612.09Z" fill="#fff" stroke="#000" stroke-width="0.9" stroke-linejoin="miter"/>
<path d="M298.00,610.08L300.60,615.08L295.40,615.08Z" fill="#fff" stroke="#000" stroke-width="0.9" stroke-linejoin="miter"/>
<path d="M298.00,612.32L300.60,617.32L295.40,617.32Z" fill="#fff" stroke="#000" stroke-width="0.9" stroke-linejoin="miter"/>
<path d="M298.00,614.93L300.60,619.93L295.40,619.93Z" fill="#fff" stroke="#000" stroke-width="0.9" stroke-linejoin="miter"/>
<path d="M295.50,619.03L298.10,624.03L292.90,624.03Z" fill="#fff" stroke="#000" stroke-width="0.9" stroke-linejoin="miter"/>
<path d="M300.50,619.03L303.10,624.03L297.90,624.03Z" fill="#fff" stroke="#000" stroke-width="0.9" stroke-linejoin="miter"/>
<path d="M298.00,622.02L300.60,627.02L295.40,627.02Z" fill="#fff" stroke="#000" stroke-width="0.9" stroke-linejoin="miter"/>
<path d="M298.00,625.01L300.60,630.01L295.40,630.01Z" fill="#fff" stroke="#000" stroke-width="0.9" stroke-linejoin="miter"/>
<path d="M298.00,633.96L300.60,638.96L295.40,638.96Z" fill="#fff" stroke="#000" stroke-width="0.9" stroke-linejoin="miter"/>
<path d="M317.80,640.31L320.40,645.31L315.20,645.31Z" fill="#fff" stroke="#000" stroke-width="0.9" stroke-linejoin="miter"/>
<path d="M317.80,651.88L320.40,656.88L315.20,656.88Z" fill="#fff" stroke="#000" stroke-width="0.9" stroke-linejoin="miter"/>
<path d="M317.80,659.72L320.40,664.72L315.20,664.72Z" fill="#fff" stroke="#000" stroke-width="0.9" stroke-linejoin="miter"/>
<path d="M313.60,670.54L316.20,675.54L311.00,675.54Z" fill="#fff" stroke="#000" stroke-width="0.9" stroke-linejoin="miter"/>
<path d="M322.60,670.54L325.20,675.54L320.00,675.54Z" fill="#fff" stroke="#000" stroke-width="0.9" stroke-linejoin="miter"/>
<path d="M337.70,651.88L340.30,656.88L335.10,656.88Z" fill="#fff" stroke="#000" stroke-width="0.9" stroke-linejoin="miter"/>
<path d="M342.50,663.08L345.10,668.08L339.90,668.08Z" fill="#fff" stroke="#000" stroke-width="0.9" stroke-linejoin="miter"/>
<path d="M337.70,666.81L340.30,671.81L335.10,671.81Z" fill="#fff" stroke="#000" stroke-width="0.9" stroke-linejoin="miter"/>
<path d="M333.60,670.54L336.20,675.54L331.00,675.54Z" fill="#fff" stroke="#000" stroke-width="0.9" stroke-linejoin="miter"/>
<path d="M342.50,666.06L345.10,671.06L339.90,671.06Z" fill="#fff" stroke="#000" stroke-width="0.9" stroke-linejoin="miter"/>
<path d="M358.00,629.49L360.60,634.49L355.40,634.49Z" fill="#fff" stroke="#000" stroke-width="0.9" stroke-linejoin="miter"/>
<path d="M358.00,653.67L360.60,658.67L355.40,658.67Z" fill="#fff" stroke="#000" stroke-width="0.9" stroke-linejoin="miter"/>
<path d="M353.50,663.08L356.10,668.08L350.90,668.08Z" fill="#fff" stroke="#000" stroke-width="0.9" stroke-linejoin="miter"/>
<path d="M358.00,660.09L360.60,665.09L355.40,665.09Z" fill="#fff" stroke="#000" stroke-width="0.9" stroke-linejoin="miter"/>
<path d="M362.40,660.09L365.00,665.09L359.80,665.09Z" fill="#fff" stroke="#000" stroke-width="0.9" stroke-linejoin="miter"/>
<path d="M290.57,572.31L291.07,573.92L292.76,573.90L291.38,574.87L291.93,576.47L290.57,575.46L289.22,576.47L289.77,574.87L288.39,573.90L290.08,573.92Z" fill="#000" stroke="#000" stroke-width="0.0"/>
<path d="M295.52,572.31L296.02,573.92L297.71,573.90L296.33,574.87L296.88,576.47L295.52,575.46L294.17,576.47L294.72,574.87L293.34,573.90L295.03,573.92Z" fill="#000" stroke="#000" stroke-width="0.0"/>
<path d="M300.47,572.31L300.97,573.92L302.66,573.90L301.28,574.87L301.83,576.47L300.47,575.46L299.12,576.47L299.67,574.87L298.29,573.90L299.98,573.92Z" fill="#000" stroke="#000" stroke-width="0.0"/>
<path d="M305.43,572.31L305.92,573.92L307.61,573.90L306.23,574.87L306.78,576.47L305.43,575.46L304.07,576.47L304.62,574.87L303.24,573.90L304.93,573.92Z" fill="#000" stroke="#000" stroke-width="0.0"/>
<text x="309.26" y="630.01" font-size="8.50" font-weight="normal" fill="#111" textLength="17.07" lengthAdjust="spacingAndGlyphs" stroke="#111" stroke-width="0.25">####</text>
<path d="M310.38,633.21L310.87,634.82L312.56,634.80L311.18,635.77L311.73,637.37L310.38,636.36L309.02,637.37L309.57,635.77L308.19,634.80L309.88,634.82Z" fill="#000" stroke="#000" stroke-width="0.0"/>
<path d="M315.32,633.21L315.82,634.82L317.51,634.80L316.13,635.77L316.68,637.37L315.32,636.36L313.97,637.37L314.52,635.77L313.14,634.80L314.83,634.82Z" fill="#000" stroke="#000" stroke-width="0.0"/>
<path d="M320.27,633.21L320.77,634.82L322.46,634.80L321.08,635.77L321.63,637.37L320.27,636.36L318.92,637.37L319.47,635.77L318.09,634.80L319.78,634.82Z" fill="#000" stroke="#000" stroke-width="0.0"/>
<path d="M325.23,633.21L325.72,634.82L327.41,634.80L326.03,635.77L326.58,637.37L325.23,636.36L323.87,637.37L324.42,635.77L323.04,634.80L324.73,634.82Z" fill="#000" stroke="#000" stroke-width="0.0"/>
<text x="329.16" y="640.91" font-size="8.50" font-weight="normal" fill="#111" textLength="17.07" lengthAdjust="spacingAndGlyphs" stroke="#111" stroke-width="0.25">####</text>
<path d="M330.27,645.01L330.77,646.62L332.46,646.60L331.08,647.57L331.63,649.17L330.27,648.16L328.92,649.17L329.47,647.57L328.09,646.60L329.78,646.62Z" fill="#000" stroke="#000" stroke-width="0.0"/>
<path d="M335.22,645.01L335.72,646.62L337.41,646.60L336.03,647.57L336.58,649.17L335.22,648.16L333.87,649.17L334.42,647.57L333.04,646.60L334.73,646.62Z" fill="#000" stroke="#000" stroke-width="0.0"/>
<path d="M340.17,645.01L340.67,646.62L342.36,646.60L340.98,647.57L341.53,649.17L340.17,648.16L338.82,649.17L339.37,647.57L337.99,646.60L339.68,646.62Z" fill="#000" stroke="#000" stroke-width="0.0"/>
<path d="M345.12,645.01L345.62,646.62L347.31,646.60L345.93,647.57L346.48,649.17L345.12,648.16L343.77,649.17L344.32,647.57L342.94,646.60L344.63,646.62Z" fill="#000" stroke="#000" stroke-width="0.0"/>
<text x="349.46" y="619.21" font-size="8.50" font-weight="normal" fill="#111" textLength="17.07" lengthAdjust="spacingAndGlyphs" stroke="#111" stroke-width="0.25">####</text>
<path d="M350.57,621.81L351.07,623.42L352.76,623.40L351.38,624.37L351.93,625.97L350.57,624.96L349.22,625.97L349.77,624.37L348.39,623.40L350.08,623.42Z" fill="#000" stroke="#000" stroke-width="0.0"/>
<path d="M355.52,621.81L356.02,623.42L357.71,623.40L356.33,624.37L356.88,625.97L355.52,624.96L354.17,625.97L354.72,624.37L353.34,623.40L355.03,623.42Z" fill="#000" stroke="#000" stroke-width="0.0"/>
<path d="M360.47,621.81L360.97,623.42L362.66,623.40L361.28,624.37L361.83,625.97L360.47,624.96L359.12,625.97L359.67,624.37L358.29,623.40L359.98,623.42Z" fill="#000" stroke="#000" stroke-width="0.0"/>
<path d="M365.43,621.81L365.92,623.42L367.61,623.40L366.23,624.37L366.78,625.97L365.43,624.96L364.07,625.97L364.62,624.37L363.24,623.40L364.93,623.42Z" fill="#000" stroke="#000" stroke-width="0.0"/>
<path d="M268.10,565.30L268.10,714.60" stroke="#000" stroke-width="1.0" fill="none"/>
<path d="M264.10,714.60L268.10,714.60" stroke="#000" stroke-width="1.0" fill="none"/>
<text x="257.32" y="719.25" font-size="10.00" font-weight="normal" fill="#000" textLength="5.12" lengthAdjust="spacingAndGlyphs" >0</text>
<path d="M264.10,677.27L268.10,677.27" stroke="#000" stroke-width="1.0" fill="none"/>
<text x="252.21" y="681.93" font-size="10.00" font-weight="normal" fill="#000" textLength="10.23" lengthAdjust="spacingAndGlyphs" >50</text>
<path d="M264.10,639.95L268.10,639.95" stroke="#000" stroke-width="1.0" fill="none"/>
<text x="247.10" y="644.60" font-size="10.00" font-weight="normal" fill="#000" textLength="15.35" lengthAdjust="spacingAndGlyphs" >100</text>
<path d="M264.10,602.62L268.10,602.62" stroke="#000" stroke-width="1.0" fill="none"/>
<text x="247.10" y="607.28" font-size="10.00" font-weight="normal" fill="#000" textLength="15.35" lengthAdjust="spacingAndGlyphs" >150</text>
<path d="M264.10,565.30L268.10,565.30" stroke="#000" stroke-width="1.0" fill="none"/>
<text x="247.10" y="569.95" font-size="10.00" font-weight="normal" fill="#000" textLength="15.35" lengthAdjust="spacingAndGlyphs" >200</text>
<path d="M268.10,714.60L367.50,714.60" stroke="#000" stroke-width="1.0" fill="none"/>
<path d="M278.00,714.60L278.00,718.60" stroke="#000" stroke-width="1.0" fill="none"/>
<path d="M298.00,714.60L298.00,718.60" stroke="#000" stroke-width="1.0" fill="none"/>
<path d="M317.80,714.60L317.80,718.60" stroke="#000" stroke-width="1.0" fill="none"/>
<path d="M337.70,714.60L337.70,718.60" stroke="#000" stroke-width="1.0" fill="none"/>
<path d="M358.00,714.60L358.00,718.60" stroke="#000" stroke-width="1.0" fill="none"/>
<text transform="translate(279.60,727.60) rotate(-45)" x="0" y="0" font-size="10.5" font-weight="bold" text-anchor="end" textLength="17.14" lengthAdjust="spacingAndGlyphs" stroke="#000" stroke-width="0.25">WT</text>
<text transform="translate(299.60,727.60) rotate(-45)" x="0" y="0" font-size="10.5" font-weight="bold" text-anchor="end" textLength="48.19" lengthAdjust="spacingAndGlyphs" stroke="#000" stroke-width="0.25">AAV-GFP</text>
<text transform="translate(319.40,727.60) rotate(-45)" x="0" y="0" font-size="10.5" font-weight="bold" text-anchor="end" textLength="50.02" lengthAdjust="spacingAndGlyphs" stroke="#000" stroke-width="0.25">AAV-CMV</text>
<text transform="translate(339.30,727.60) rotate(-45)" x="0" y="0" font-size="10.5" font-weight="bold" text-anchor="end" textLength="45.14" lengthAdjust="spacingAndGlyphs" stroke="#000" stroke-width="0.25">AAV-aP2</text>
<text transform="translate(359.60,727.60) rotate(-45)" x="0" y="0" font-size="10.5" font-weight="bold" text-anchor="end" textLength="48.80" lengthAdjust="spacingAndGlyphs" stroke="#000" stroke-width="0.25">AAV-TBG</text>
<text transform="translate(241.50,688.10) rotate(-90)" x="0" y="0" font-size="10.00" font-weight="bold" fill="#000" textLength="99.11" lengthAdjust="spacingAndGlyphs" stroke="#000" stroke-width="0.2">Liver weight (mg/g)</text>
<text x="398.27" y="545.80" font-size="25.00" font-weight="bold" fill="#000" >K</text>
<rect x="431.10" y="698.28" width="13.00" height="16.42" fill="#fff" stroke="#000" stroke-width="1.0"/>
<rect x="451.20" y="631.54" width="13.00" height="83.16" fill="#d3d3d3" stroke="#000" stroke-width="1.0"/>
<rect x="471.00" y="641.54" width="13.00" height="73.16" fill="#000" stroke="#000" stroke-width="1.0"/>
<rect x="490.90" y="695.29" width="13.00" height="19.41" fill="#ffa040" stroke="#000" stroke-width="1.0"/>
<rect x="511.10" y="640.27" width="13.00" height="74.43" fill="#00c000" stroke="#000" stroke-width="1.0"/>
<path d="M437.60,698.28L437.60,693.05" stroke="#000" stroke-width="1.0" fill="none"/>
<path d="M434.85,693.05L440.35,693.05" stroke="#000" stroke-width="1.0" fill="none"/>
<path d="M437.60,698.28L437.60,708.73" stroke="#000" stroke-width="1.0" fill="none"/>
<path d="M434.85,708.73L440.35,708.73" stroke="#000" stroke-width="1.0" fill="none"/>
<path d="M457.70,631.54L457.70,599.74" stroke="#000" stroke-width="1.0" fill="none"/>
<path d="M454.95,599.74L460.45,599.74" stroke="#000" stroke-width="1.0" fill="none"/>
<path d="M457.70,631.54L457.70,672.90" stroke="#000" stroke-width="1.0" fill="none"/>
<path d="M454.95,672.90L460.45,672.90" stroke="#000" stroke-width="1.0" fill="none"/>
<path d="M477.50,641.54L477.50,606.46" stroke="#000" stroke-width="1.0" fill="none"/>
<path d="M474.75,606.46L480.25,606.46" stroke="#000" stroke-width="1.0" fill="none"/>
<path d="M497.40,695.29L497.40,668.79" stroke="#000" stroke-width="1.0" fill="none"/>
<path d="M494.65,668.79L500.15,668.79" stroke="#000" stroke-width="1.0" fill="none"/>
<path d="M517.60,640.27L517.60,624.75" stroke="#000" stroke-width="1.0" fill="none"/>
<path d="M514.85,624.75L520.35,624.75" stroke="#000" stroke-width="1.0" fill="none"/>
<path d="M517.60,640.27L517.60,654.61" stroke="#000" stroke-width="1.0" fill="none"/>
<path d="M514.85,654.61L520.35,654.61" stroke="#000" stroke-width="1.0" fill="none"/>
<path d="M437.60,645.26L440.20,650.26L435.00,650.26Z" fill="#fff" stroke="#000" stroke-width="0.9" stroke-linejoin="miter"/>
<path d="M437.60,649.74L440.20,654.74L435.00,654.74Z" fill="#fff" stroke="#000" stroke-width="0.9" stroke-linejoin="miter"/>
<path d="M437.60,672.14L440.20,677.14L435.00,677.14Z" fill="#fff" stroke="#000" stroke-width="0.9" stroke-linejoin="miter"/>
<path d="M437.60,674.38L440.20,679.38L435.00,679.38Z" fill="#fff" stroke="#000" stroke-width="0.9" stroke-linejoin="miter"/>
<path d="M437.60,677.36L440.20,682.36L435.00,682.36Z" fill="#fff" stroke="#000" stroke-width="0.9" stroke-linejoin="miter"/>
<path d="M437.60,683.33L440.20,688.33L435.00,688.33Z" fill="#fff" stroke="#000" stroke-width="0.9" stroke-linejoin="miter"/>
<path d="M437.60,686.32L440.20,691.32L435.00,691.32Z" fill="#fff" stroke="#000" stroke-width="0.9" stroke-linejoin="miter"/>
<path d="M437.60,689.31L440.20,694.31L435.00,694.31Z" fill="#fff" stroke="#000" stroke-width="0.9" stroke-linejoin="miter"/>
<path d="M437.60,692.29L440.20,697.29L435.00,697.29Z" fill="#fff" stroke="#000" stroke-width="0.9" stroke-linejoin="miter"/>
<path d="M434.60,695.28L437.20,700.28L432.00,700.28Z" fill="#fff" stroke="#000" stroke-width="0.9" stroke-linejoin="miter"/>
<path d="M440.60,695.28L443.20,700.28L438.00,700.28Z" fill="#fff" stroke="#000" stroke-width="0.9" stroke-linejoin="miter"/>
<path d="M437.60,698.26L440.20,703.26L435.00,703.26Z" fill="#fff" stroke="#000" stroke-width="0.9" stroke-linejoin="miter"/>
<path d="M433.60,701.25L436.20,706.25L431.00,706.25Z" fill="#fff" stroke="#000" stroke-width="0.9" stroke-linejoin="miter"/>
<path d="M441.60,700.50L444.20,705.50L439.00,705.50Z" fill="#fff" stroke="#000" stroke-width="0.9" stroke-linejoin="miter"/>
<path d="M437.60,702.74L440.20,707.74L435.00,707.74Z" fill="#fff" stroke="#000" stroke-width="0.9" stroke-linejoin="miter"/>
<path d="M433.60,705.73L436.20,710.73L431.00,710.73Z" fill="#fff" stroke="#000" stroke-width="0.9" stroke-linejoin="miter"/>
<path d="M441.60,704.98L444.20,709.98L439.00,709.98Z" fill="#fff" stroke="#000" stroke-width="0.9" stroke-linejoin="miter"/>
<path d="M437.60,707.22L440.20,712.22L435.00,712.22Z" fill="#fff" stroke="#000" stroke-width="0.9" stroke-linejoin="miter"/>
<path d="M432.60,709.46L435.20,714.46L430.00,714.46Z" fill="#fff" stroke="#000" stroke-width="0.9" stroke-linejoin="miter"/>
<path d="M442.60,709.46L445.20,714.46L440.00,714.46Z" fill="#fff" stroke="#000" stroke-width="0.9" stroke-linejoin="miter"/>
<path d="M437.60,710.95L440.20,715.95L435.00,715.95Z" fill="#fff" stroke="#000" stroke-width="0.9" stroke-linejoin="miter"/>
<path d="M434.60,711.33L437.20,716.33L432.00,716.33Z" fill="#fff" stroke="#000" stroke-width="0.9" stroke-linejoin="miter"/>
<path d="M440.60,711.33L443.20,716.33L438.00,716.33Z" fill="#fff" stroke="#000" stroke-width="0.9" stroke-linejoin="miter"/>
<path d="M457.70,569.87L460.30,574.87L455.10,574.87Z" fill="#fff" stroke="#000" stroke-width="0.9" stroke-linejoin="miter"/>
<path d="M457.70,578.08L460.30,583.08L455.10,583.08Z" fill="#fff" stroke="#000" stroke-width="0.9" stroke-linejoin="miter"/>
<path d="M457.70,590.02L460.30,595.02L455.10,595.02Z" fill="#fff" stroke="#000" stroke-width="0.9" stroke-linejoin="miter"/>
<path d="M457.70,596.74L460.30,601.74L455.10,601.74Z" fill="#fff" stroke="#000" stroke-width="0.9" stroke-linejoin="miter"/>
<path d="M453.10,618.39L455.70,623.39L450.50,623.39Z" fill="#fff" stroke="#000" stroke-width="0.9" stroke-linejoin="miter"/>
<path d="M462.30,619.13L464.90,624.13L459.70,624.13Z" fill="#fff" stroke="#000" stroke-width="0.9" stroke-linejoin="miter"/>
<path d="M457.70,622.12L460.30,627.12L455.10,627.12Z" fill="#fff" stroke="#000" stroke-width="0.9" stroke-linejoin="miter"/>
<path d="M461.70,629.59L464.30,634.59L459.10,634.59Z" fill="#fff" stroke="#000" stroke-width="0.9" stroke-linejoin="miter"/>
<path d="M457.70,634.81L460.30,639.81L455.10,639.81Z" fill="#fff" stroke="#000" stroke-width="0.9" stroke-linejoin="miter"/>
<path d="M462.30,642.28L464.90,647.28L459.70,647.28Z" fill="#fff" stroke="#000" stroke-width="0.9" stroke-linejoin="miter"/>
<path d="M457.70,646.01L460.30,651.01L455.10,651.01Z" fill="#fff" stroke="#000" stroke-width="0.9" stroke-linejoin="miter"/>
<path d="M457.70,653.47L460.30,658.47L455.10,658.47Z" fill="#fff" stroke="#000" stroke-width="0.9" stroke-linejoin="miter"/>
<path d="M457.70,657.95L460.30,662.95L455.10,662.95Z" fill="#fff" stroke="#000" stroke-width="0.9" stroke-linejoin="miter"/>
<path d="M457.70,666.16L460.30,671.16L455.10,671.16Z" fill="#fff" stroke="#000" stroke-width="0.9" stroke-linejoin="miter"/>
<path d="M462.30,668.40L464.90,673.40L459.70,673.40Z" fill="#fff" stroke="#000" stroke-width="0.9" stroke-linejoin="miter"/>
<path d="M453.70,669.90L456.30,674.90L451.10,674.90Z" fill="#fff" stroke="#000" stroke-width="0.9" stroke-linejoin="miter"/>
<path d="M477.50,604.20L480.10,609.20L474.90,609.20Z" fill="#fff" stroke="#000" stroke-width="0.9" stroke-linejoin="miter"/>
<path d="M477.50,615.40L480.10,620.40L474.90,620.40Z" fill="#fff" stroke="#000" stroke-width="0.9" stroke-linejoin="miter"/>
<path d="M477.50,625.11L480.10,630.11L474.90,630.11Z" fill="#fff" stroke="#000" stroke-width="0.9" stroke-linejoin="miter"/>
<path d="M477.50,667.66L480.10,672.66L474.90,672.66Z" fill="#fff" stroke="#000" stroke-width="0.9" stroke-linejoin="miter"/>
<path d="M477.50,681.84L480.10,686.84L474.90,686.84Z" fill="#fff" stroke="#000" stroke-width="0.9" stroke-linejoin="miter"/>
<path d="M497.40,646.01L500.00,651.01L494.80,651.01Z" fill="#fff" stroke="#000" stroke-width="0.9" stroke-linejoin="miter"/>
<path d="M497.40,698.26L500.00,703.26L494.80,703.26Z" fill="#fff" stroke="#000" stroke-width="0.9" stroke-linejoin="miter"/>
<path d="M493.00,705.73L495.60,710.73L490.40,710.73Z" fill="#fff" stroke="#000" stroke-width="0.9" stroke-linejoin="miter"/>
<path d="M497.40,704.98L500.00,709.98L494.80,709.98Z" fill="#fff" stroke="#000" stroke-width="0.9" stroke-linejoin="miter"/>
<path d="M501.50,705.73L504.10,710.73L498.90,710.73Z" fill="#fff" stroke="#000" stroke-width="0.9" stroke-linejoin="miter"/>
<path d="M517.60,616.15L520.20,621.15L515.00,621.15Z" fill="#fff" stroke="#000" stroke-width="0.9" stroke-linejoin="miter"/>
<path d="M517.60,629.59L520.20,634.59L515.00,634.59Z" fill="#fff" stroke="#000" stroke-width="0.9" stroke-linejoin="miter"/>
<path d="M517.60,636.30L520.20,641.30L515.00,641.30Z" fill="#fff" stroke="#000" stroke-width="0.9" stroke-linejoin="miter"/>
<path d="M517.60,647.50L520.20,652.50L515.00,652.50Z" fill="#fff" stroke="#000" stroke-width="0.9" stroke-linejoin="miter"/>
<path d="M517.60,655.71L520.20,660.71L515.00,660.71Z" fill="#fff" stroke="#000" stroke-width="0.9" stroke-linejoin="miter"/>
<path d="M450.27,562.41L450.77,564.02L452.46,564.00L451.08,564.97L451.63,566.57L450.27,565.56L448.92,566.57L449.47,564.97L448.09,564.00L449.78,564.02Z" fill="#000" stroke="#000" stroke-width="0.0"/>
<path d="M455.22,562.41L455.72,564.02L457.41,564.00L456.03,564.97L456.58,566.57L455.22,565.56L453.87,566.57L454.42,564.97L453.04,564.00L454.73,564.02Z" fill="#000" stroke="#000" stroke-width="0.0"/>
<path d="M460.17,562.41L460.67,564.02L462.36,564.00L460.98,564.97L461.53,566.57L460.17,565.56L458.82,566.57L459.37,564.97L457.99,564.00L459.68,564.02Z" fill="#000" stroke="#000" stroke-width="0.0"/>
<path d="M465.12,562.41L465.62,564.02L467.31,564.00L465.93,564.97L466.48,566.57L465.12,565.56L463.77,566.57L464.32,564.97L462.94,564.00L464.63,564.02Z" fill="#000" stroke="#000" stroke-width="0.0"/>
<path d="M475.02,597.11L475.52,598.72L477.21,598.70L475.83,599.67L476.38,601.27L475.02,600.26L473.67,601.27L474.22,599.67L472.84,598.70L474.53,598.72Z" fill="#000" stroke="#000" stroke-width="0.0"/>
<path d="M479.97,597.11L480.47,598.72L482.16,598.70L480.78,599.67L481.33,601.27L479.97,600.26L478.62,601.27L479.17,599.67L477.79,598.70L479.48,598.72Z" fill="#000" stroke="#000" stroke-width="0.0"/>
<path d="M510.18,608.51L510.67,610.12L512.36,610.10L510.98,611.07L511.53,612.67L510.18,611.66L508.82,612.67L509.37,611.07L507.99,610.10L509.68,610.12Z" fill="#000" stroke="#000" stroke-width="0.0"/>
<path d="M515.12,608.51L515.62,610.12L517.31,610.10L515.93,611.07L516.48,612.67L515.12,611.66L513.77,612.67L514.32,611.07L512.94,610.10L514.63,610.12Z" fill="#000" stroke="#000" stroke-width="0.0"/>
<path d="M520.08,608.51L520.57,610.12L522.26,610.10L520.88,611.07L521.43,612.67L520.08,611.66L518.72,612.67L519.27,611.07L517.89,610.10L519.58,610.12Z" fill="#000" stroke="#000" stroke-width="0.0"/>
<path d="M525.02,608.51L525.52,610.12L527.21,610.10L525.83,611.07L526.38,612.67L525.02,611.66L523.67,612.67L524.22,611.07L522.84,610.10L524.53,610.12Z" fill="#000" stroke="#000" stroke-width="0.0"/>
<path d="M427.50,565.40L427.50,714.70" stroke="#000" stroke-width="1.0" fill="none"/>
<path d="M423.50,714.70L427.50,714.70" stroke="#000" stroke-width="1.0" fill="none"/>
<text x="416.72" y="719.35" font-size="10.00" font-weight="normal" fill="#000" textLength="5.12" lengthAdjust="spacingAndGlyphs" >0</text>
<path d="M423.50,677.38L427.50,677.38" stroke="#000" stroke-width="1.0" fill="none"/>
<text x="411.61" y="682.03" font-size="10.00" font-weight="normal" fill="#000" textLength="10.23" lengthAdjust="spacingAndGlyphs" >50</text>
<path d="M423.50,640.05L427.50,640.05" stroke="#000" stroke-width="1.0" fill="none"/>
<text x="406.50" y="644.70" font-size="10.00" font-weight="normal" fill="#000" textLength="15.35" lengthAdjust="spacingAndGlyphs" >100</text>
<path d="M423.50,602.73L427.50,602.73" stroke="#000" stroke-width="1.0" fill="none"/>
<text x="406.50" y="607.38" font-size="10.00" font-weight="normal" fill="#000" textLength="15.35" lengthAdjust="spacingAndGlyphs" >150</text>
<path d="M423.50,565.40L427.50,565.40" stroke="#000" stroke-width="1.0" fill="none"/>
<text x="406.50" y="570.05" font-size="10.00" font-weight="normal" fill="#000" textLength="15.35" lengthAdjust="spacingAndGlyphs" >200</text>
<path d="M427.50,714.70L527.20,714.70" stroke="#000" stroke-width="1.0" fill="none"/>
<path d="M437.60,714.70L437.60,718.70" stroke="#000" stroke-width="1.0" fill="none"/>
<path d="M457.70,714.70L457.70,718.70" stroke="#000" stroke-width="1.0" fill="none"/>
<path d="M477.50,714.70L477.50,718.70" stroke="#000" stroke-width="1.0" fill="none"/>
<path d="M497.40,714.70L497.40,718.70" stroke="#000" stroke-width="1.0" fill="none"/>
<path d="M517.60,714.70L517.60,718.70" stroke="#000" stroke-width="1.0" fill="none"/>
<text transform="translate(439.20,727.70) rotate(-45)" x="0" y="0" font-size="10.5" font-weight="bold" text-anchor="end" textLength="17.14" lengthAdjust="spacingAndGlyphs" stroke="#000" stroke-width="0.25">WT</text>
<text transform="translate(459.30,727.70) rotate(-45)" x="0" y="0" font-size="10.5" font-weight="bold" text-anchor="end" textLength="48.19" lengthAdjust="spacingAndGlyphs" stroke="#000" stroke-width="0.25">AAV-GFP</text>
<text transform="translate(479.10,727.70) rotate(-45)" x="0" y="0" font-size="10.5" font-weight="bold" text-anchor="end" textLength="50.02" lengthAdjust="spacingAndGlyphs" stroke="#000" stroke-width="0.25">AAV-CMV</text>
<text transform="translate(499.00,727.70) rotate(-45)" x="0" y="0" font-size="10.5" font-weight="bold" text-anchor="end" textLength="45.14" lengthAdjust="spacingAndGlyphs" stroke="#000" stroke-width="0.25">AAV-aP2</text>
<text transform="translate(519.20,727.70) rotate(-45)" x="0" y="0" font-size="10.5" font-weight="bold" text-anchor="end" textLength="48.80" lengthAdjust="spacingAndGlyphs" stroke="#000" stroke-width="0.25">AAV-TBG</text>
<text transform="translate(400.20,678.50) rotate(-90)" x="0" y="0" font-size="10.00" font-weight="bold" fill="#000" textLength="80.04" lengthAdjust="spacingAndGlyphs" stroke="#000" stroke-width="0.2">Liver TG (mg/g)</text>
</svg>
</body></html>
